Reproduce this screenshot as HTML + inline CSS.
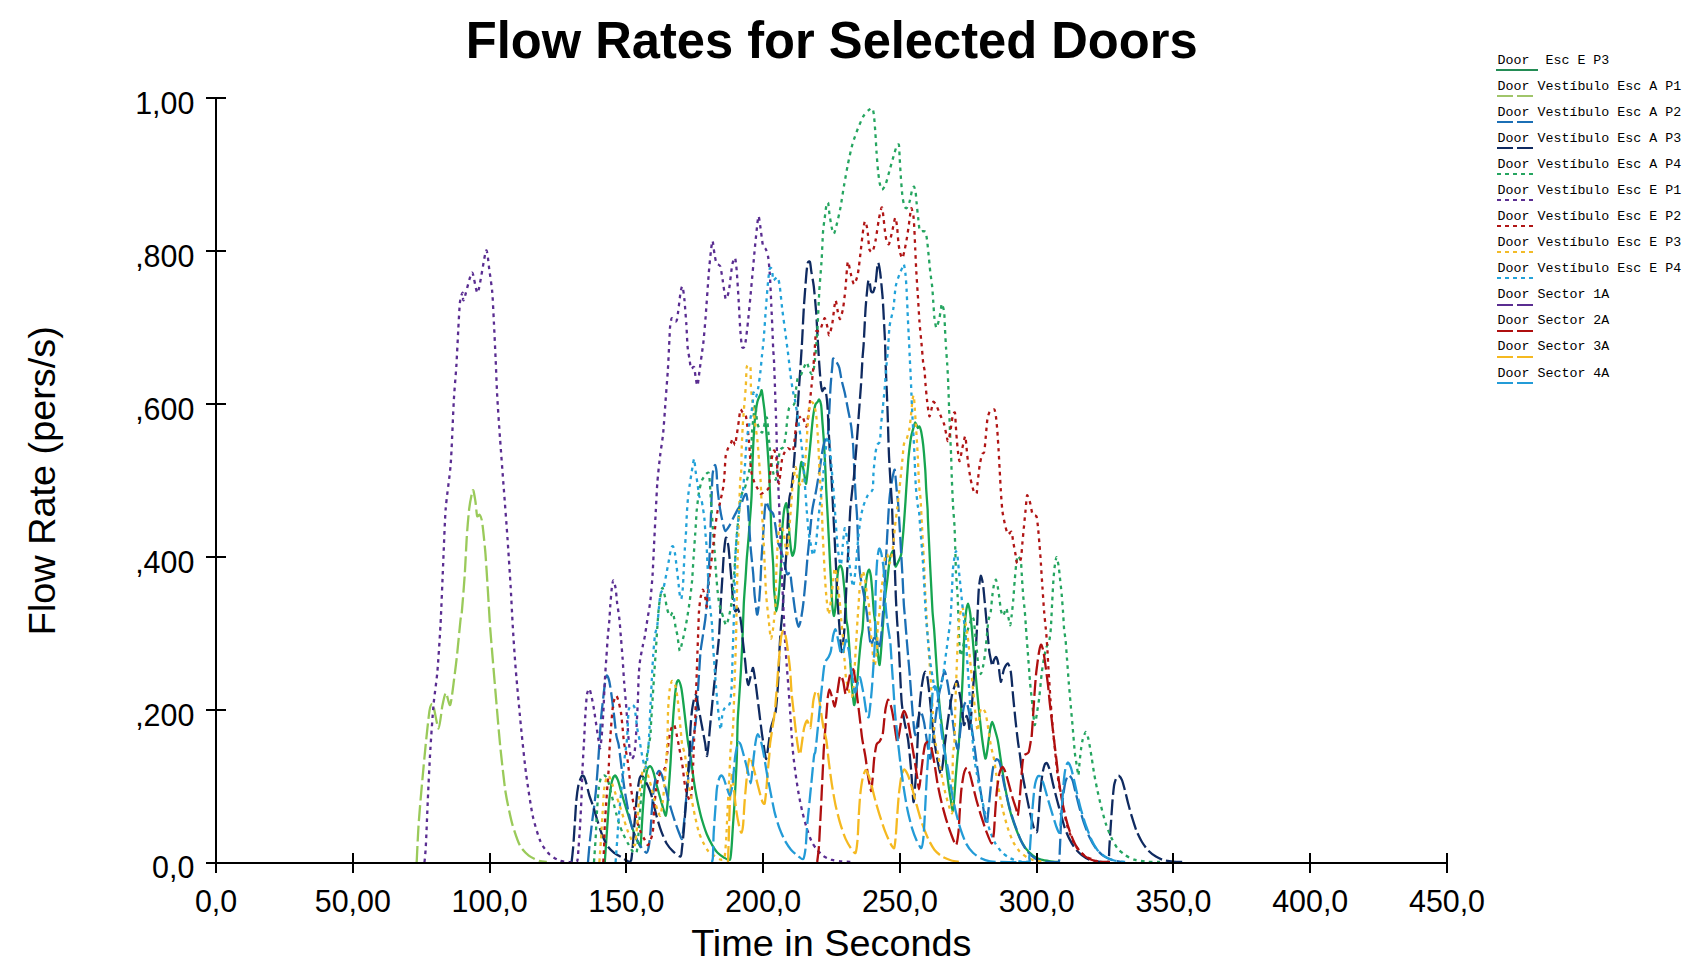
<!DOCTYPE html>
<html><head><meta charset="utf-8"><title>Flow Rates for Selected Doors</title>
<style>
html,body{margin:0;padding:0;background:#fff;}
body{width:1694px;height:971px;overflow:hidden;font-family:"Liberation Sans",sans-serif;}
svg{display:block;}
.ax{stroke:#000;stroke-width:2;fill:none;shape-rendering:crispEdges;}
.tl{font-family:"Liberation Sans",sans-serif;font-size:30.4px;fill:#000;}
.lg{font-family:"Liberation Mono",monospace;font-size:13.3px;fill:#000;}
.c{fill:none;stroke-width:2.3;stroke-linejoin:round;}
</style></head><body>
<svg width="1694" height="971" viewBox="0 0 1694 971">
<rect width="1694" height="971" fill="#fff"/>
<text transform="translate(831.7,58.2) scale(1,1.03)" text-anchor="middle" font-family="Liberation Sans, sans-serif" font-weight="bold" font-size="50.67" fill="#000">Flow Rates for Selected Doors</text>
<text x="831.3" y="955.8" text-anchor="middle" font-family="Liberation Sans, sans-serif" font-size="37.85" fill="#000">Time in Seconds</text>
<text transform="translate(54.8,480.7) rotate(-90)" text-anchor="middle" font-family="Liberation Sans, sans-serif" font-size="37.85" fill="#000">Flow Rate (pers/s)</text>
<path class="c" stroke="#16a550" d="M604.8 862.0C605.0 859.5 605.9 845.6 606.3 840.4C606.7 835.2 607.5 822.1 607.9 817.2C608.3 812.3 608.9 802.8 609.4 798.7C609.9 794.6 611.2 784.4 611.8 781.7C612.4 779.0 614.1 775.7 614.8 775.5C615.5 775.3 617.2 778.4 617.9 780.2C618.6 782.0 620.3 788.5 621.0 791.0C621.7 793.5 623.3 799.1 624.1 801.8C624.9 804.5 627.1 811.3 628.0 814.2C628.9 817.1 630.9 823.8 631.8 826.5C632.7 829.2 634.8 835.1 635.7 837.3C636.6 839.5 639.0 844.1 639.6 845.1C640.2 846.1 640.3 848.3 640.6 846.0C640.9 843.7 641.6 830.2 641.9 825.0C642.2 819.8 643.0 806.7 643.4 801.8C643.8 796.9 644.5 787.1 645.0 783.3C645.5 779.5 646.7 771.4 647.3 769.4C647.9 767.4 649.7 765.9 650.4 766.3C651.1 766.6 652.8 770.2 653.5 772.4C654.2 774.6 655.8 781.7 656.6 784.8C657.4 787.9 659.6 795.8 660.4 798.7C661.2 801.6 662.9 807.5 663.5 809.5C664.1 811.5 665.3 816.2 665.8 815.7C666.3 815.2 667.0 808.3 667.4 804.9C667.8 801.5 668.5 791.2 668.9 786.3C669.3 781.4 670.1 769.1 670.5 763.2C670.9 757.3 671.6 741.8 672.0 735.9C672.4 730.0 673.1 717.6 673.5 712.7C673.9 707.8 674.7 697.6 675.1 694.2C675.5 690.8 676.2 684.9 676.6 683.3C677.0 681.7 678.1 679.7 678.6 680.2C679.1 680.7 680.7 685.1 681.3 688.0C681.9 690.9 683.1 700.7 683.6 705.0C684.1 709.3 685.4 720.6 685.9 725.1C686.4 729.6 687.7 740.1 688.2 743.6C688.7 747.1 690.0 751.9 690.5 755.4C691.0 758.9 692.4 770.0 692.9 774.0C693.4 778.0 694.6 785.8 695.2 789.4C695.8 793.0 697.5 801.3 698.3 804.9C699.1 808.5 701.1 816.9 702.1 820.3C703.1 823.7 705.6 831.3 706.8 834.2C708.0 837.1 710.9 842.9 712.2 845.1C713.5 847.3 716.2 851.4 717.6 852.8C719.0 854.2 722.4 856.6 723.8 857.4C725.2 858.2 729.0 860.8 729.9 859.7C730.8 858.6 731.1 852.1 731.5 848.1C731.9 844.1 732.6 830.4 733.0 825.0C733.4 819.6 734.3 807.2 734.6 801.8C734.9 796.4 735.5 784.0 735.8 778.6C736.1 773.2 736.7 762.2 736.9 755.4C737.1 748.6 737.4 727.2 737.7 720.4C738.0 713.6 738.9 702.6 739.2 697.2C739.6 691.8 740.3 680.4 740.7 674.1C741.1 667.8 741.9 651.4 742.3 643.2C742.7 635.0 743.4 610.9 743.8 603.6C744.2 596.3 745.0 585.8 745.4 580.4C745.8 575.0 746.5 562.1 746.9 557.2C747.3 552.3 748.1 543.2 748.5 538.7C748.9 534.2 749.6 523.7 750.0 518.6C750.4 513.5 751.3 501.8 751.6 495.4C751.9 489.0 752.3 470.0 752.5 463.6C752.7 457.2 753.2 445.8 753.5 440.4C753.8 435.0 754.6 421.7 755.1 417.2C755.6 412.7 756.8 404.5 757.4 401.8C758.0 399.1 760.0 395.5 760.5 394.1C761.0 392.7 761.4 389.8 761.7 390.2C762.0 390.6 762.5 394.9 762.8 397.2C763.1 399.5 764.0 406.1 764.4 409.5C764.8 412.9 765.5 422.0 765.9 426.5C766.3 431.0 767.1 442.9 767.5 448.1C767.9 453.3 768.7 466.5 769.0 471.3C769.3 476.1 769.6 483.6 769.8 489.1C770.0 494.6 770.7 512.5 770.9 518.6C771.1 524.7 771.4 536.4 771.7 541.8C772.0 547.2 772.9 559.6 773.2 565.0C773.5 570.4 773.7 583.6 774.0 588.1C774.3 592.6 775.2 600.9 775.5 603.6C775.8 606.3 776.0 611.3 776.3 611.3C776.6 611.3 777.4 606.3 777.8 603.6C778.2 600.9 779.0 592.6 779.4 588.1C779.8 583.6 780.6 570.4 780.9 565.0C781.2 559.6 781.5 546.3 781.7 541.8C781.9 537.3 782.2 529.9 782.5 526.3C782.8 522.7 783.6 513.6 784.0 510.9C784.4 508.2 785.8 502.8 786.3 503.2C786.8 503.6 787.5 510.4 787.9 514.0C788.3 517.6 789.0 530.0 789.4 534.1C789.8 538.2 790.6 547.0 791.0 549.5C791.4 552.0 792.1 555.9 792.5 555.7C792.9 555.5 794.3 551.4 794.8 548.0C795.3 544.6 796.0 531.5 796.4 526.3C796.8 521.1 797.6 508.6 797.9 503.2C798.2 497.8 798.7 484.8 799.1 480.0C799.5 475.2 800.9 463.0 801.4 462.0C801.9 461.0 803.3 468.8 803.8 471.3C804.3 473.8 805.6 484.6 806.1 483.7C806.6 482.8 807.9 468.7 808.4 463.6C808.9 458.5 810.2 445.8 810.7 440.4C811.2 435.0 812.5 421.3 813.0 417.2C813.5 413.1 814.8 406.7 815.3 404.9C815.8 403.1 817.2 402.4 817.7 401.8C818.2 401.2 818.8 399.1 819.2 399.5C819.6 399.9 820.7 402.5 821.1 404.9C821.5 407.3 822.0 416.2 822.3 420.3C822.6 424.4 823.5 435.3 823.8 440.4C824.1 445.5 824.8 457.9 825.1 463.6C825.4 469.3 825.9 482.7 826.2 489.1C826.5 495.5 827.5 512.5 827.8 518.6C828.1 524.7 828.7 536.4 829.0 541.8C829.3 547.2 829.8 559.6 830.1 565.0C830.4 570.4 831.1 583.2 831.4 588.1C831.7 593.0 832.1 603.5 832.4 606.7C832.7 609.9 833.6 616.3 834.0 615.9C834.4 615.5 835.4 607.7 835.8 603.6C836.2 599.5 836.8 584.5 837.1 580.4C837.4 576.3 838.2 569.8 838.6 568.1C839.0 566.4 840.0 565.4 840.5 565.7C841.0 566.1 842.1 568.8 842.5 571.1C842.9 573.4 843.6 581.3 844.0 585.1C844.4 588.9 845.3 599.6 845.6 603.6C845.9 607.6 846.0 616.0 846.3 619.0C846.6 622.0 847.5 625.5 847.9 629.1C848.3 632.7 849.1 644.1 849.5 650.0C849.9 655.9 851.0 673.6 851.5 680.0C852.0 686.4 853.5 703.8 854.1 705.0C854.7 706.2 855.9 695.2 856.5 690.0C857.1 684.8 858.5 665.8 859.0 660.0C859.5 654.2 860.6 643.6 861.0 640.0C861.4 636.4 862.2 633.3 862.6 629.1C863.0 624.9 863.7 608.7 864.1 603.6C864.5 598.5 865.3 588.5 865.7 585.1C866.1 581.7 866.8 576.0 867.2 574.2C867.6 572.4 868.7 569.4 869.1 569.6C869.5 569.8 870.4 573.3 870.8 575.8C871.2 578.3 871.9 587.1 872.3 591.2C872.6 595.3 873.4 607.3 873.8 611.3C874.2 615.3 875.0 620.7 875.4 625.2C875.8 629.7 877.0 645.4 877.5 650.0C878.0 654.6 879.1 665.6 879.6 665.0C880.1 664.4 881.1 650.4 881.5 645.0C881.9 639.6 883.0 624.6 883.4 619.0C883.8 613.4 884.5 601.9 885.0 597.4C885.5 592.9 886.8 584.7 887.3 580.4C887.8 576.1 889.1 563.5 889.6 560.3C890.1 557.1 891.4 553.7 891.9 552.6C892.4 551.5 893.1 549.8 893.5 551.1C893.9 552.4 894.7 561.6 895.0 563.4C895.3 565.2 895.3 566.9 895.8 566.5C896.3 566.1 898.3 561.7 898.9 560.3C899.5 558.9 900.8 556.7 901.2 554.2C901.6 551.7 902.3 542.9 902.7 538.7C903.1 534.5 904.0 523.0 904.3 518.6C904.6 514.2 905.2 506.0 905.5 501.3C905.8 496.6 906.6 483.3 907.0 478.1C907.4 472.9 908.1 461.2 908.6 456.5C909.1 451.8 910.4 441.2 910.9 438.0C911.4 434.8 912.7 430.5 913.2 428.7C913.7 426.9 914.7 422.6 915.2 422.5C915.7 422.4 917.3 427.4 917.8 427.9C918.3 428.4 919.0 426.1 919.4 426.4C919.8 426.7 920.5 428.7 920.9 430.2C921.3 431.7 922.1 436.8 922.5 439.5C922.9 442.2 923.7 449.8 924.0 453.4C924.3 457.0 925.0 466.1 925.3 470.4C925.6 474.7 926.0 486.0 926.3 490.5C926.6 495.0 927.4 505.7 927.6 509.0C927.8 512.3 927.7 514.8 927.9 518.6C928.1 522.4 928.7 536.4 929.0 541.8C929.3 547.2 929.8 559.6 930.1 565.0C930.4 570.4 931.0 582.7 931.3 588.1C931.6 593.5 932.2 606.5 932.5 611.3C932.8 616.1 933.8 624.6 934.1 629.1C934.5 633.6 935.1 644.1 935.5 650.0C935.9 655.9 937.0 673.0 937.5 680.0C938.0 687.0 939.3 703.0 940.0 710.0C940.7 717.0 943.0 733.8 943.7 740.0C944.4 746.2 945.5 758.1 946.0 763.2C946.5 768.3 947.8 779.2 948.3 783.3C948.8 787.4 950.1 795.5 950.6 798.7C951.1 801.9 952.4 811.5 952.9 811.0C953.4 810.5 954.1 798.4 954.5 794.1C954.9 789.8 955.6 778.5 956.0 774.0C956.4 769.5 957.2 759.4 957.6 755.4C958.0 751.4 958.7 745.3 959.1 740.0C959.5 734.7 960.5 718.2 961.0 710.0C961.5 701.8 962.6 679.4 963.0 670.0C963.4 660.6 964.1 635.9 964.5 629.1C964.9 622.3 965.7 614.3 966.1 611.3C966.5 608.3 967.7 603.6 968.1 603.6C968.5 603.6 969.5 608.8 969.9 611.3C970.3 613.8 971.0 620.1 971.5 625.2C972.0 630.3 973.4 647.4 974.0 655.0C974.6 662.6 976.3 682.4 977.0 690.0C977.7 697.6 979.4 714.2 980.0 720.0C980.6 725.8 981.7 735.5 982.3 740.0C982.9 744.5 984.8 757.6 985.4 758.5C986.0 759.4 987.2 751.0 987.7 747.7C988.2 744.4 989.5 733.0 990.0 730.0C990.5 727.0 991.7 722.0 992.3 722.0C992.9 722.0 994.4 727.9 995.0 730.0C995.6 732.1 997.1 737.0 997.7 740.0C998.3 743.0 999.6 751.8 1000.1 755.4C1000.6 759.0 1001.8 766.9 1002.4 770.9C1003.0 774.9 1004.7 785.1 1005.5 789.4C1006.3 793.7 1008.3 804.0 1009.3 808.0C1010.3 812.0 1012.8 820.0 1014.0 823.4C1015.2 826.8 1018.1 834.4 1019.4 837.3C1020.7 840.2 1023.9 845.9 1025.5 848.1C1027.1 850.3 1031.5 854.5 1033.3 855.9C1035.1 857.3 1039.0 859.1 1041.0 859.7C1043.0 860.3 1048.1 861.0 1050.3 861.3C1052.5 861.6 1058.9 861.9 1060.0 862.0"/>
<path class="c" stroke="#9aca5a" stroke-dasharray="16 4.5" d="M416.7 862.0C416.9 857.8 417.9 835.0 418.5 826.0C419.1 817.0 421.0 794.4 421.9 784.8C422.8 775.2 424.9 752.3 425.8 743.6C426.7 734.9 428.8 714.7 429.6 710.1C430.4 705.5 431.9 702.3 433.0 704.5C434.1 706.7 437.5 728.6 438.6 728.7C439.7 728.8 441.6 709.2 442.5 705.0C443.4 700.8 445.0 692.9 445.9 692.9C446.8 692.9 449.2 706.6 450.2 705.0C451.2 703.4 453.3 685.2 454.1 679.2C454.9 673.2 456.5 660.4 457.2 653.5C457.9 646.6 460.0 624.8 460.5 620.0C461.0 615.2 461.3 617.6 461.8 612.4C462.3 607.2 464.1 583.9 464.7 575.3C465.3 566.7 466.2 546.1 466.7 538.3C467.2 530.5 468.5 514.2 469.2 508.6C469.9 503.0 472.2 491.0 472.9 490.1C473.6 489.2 474.9 498.2 475.4 501.2C475.9 504.2 476.6 514.4 477.1 516.0C477.6 517.6 479.0 514.2 479.6 514.8C480.2 515.4 481.3 516.8 482.0 521.0C482.7 525.2 484.5 542.8 485.2 550.6C485.9 558.4 487.1 578.6 487.7 587.7C488.3 596.8 489.6 620.1 490.2 628.4C490.8 636.7 492.0 649.7 492.7 658.6C493.4 667.5 495.7 694.5 496.6 705.0C497.5 715.5 499.4 738.6 500.5 748.8C501.6 759.0 504.2 783.8 505.6 792.5C507.0 801.2 510.4 817.2 512.1 823.4C513.8 829.6 517.9 841.5 519.8 845.3C521.7 849.1 526.5 853.8 528.8 855.6C531.1 857.4 537.0 860.1 539.1 860.8C541.2 861.5 545.9 861.9 546.8 862.0"/>
<path class="c" stroke="#1b6fb5" stroke-dasharray="16 4.5" d="M588.0 862.0C588.2 859.4 589.4 845.5 590.0 840.0C590.6 834.5 592.5 818.7 593.0 815.0C593.5 811.3 593.6 811.3 594.0 808.0C594.4 804.7 595.8 792.4 596.3 786.3C596.8 780.2 598.1 763.1 598.6 755.4C599.1 747.7 600.4 727.2 600.9 720.4C601.4 713.6 602.8 702.1 603.3 697.2C603.8 692.3 605.2 681.2 605.6 678.7C606.0 676.2 606.7 675.2 607.1 675.6C607.5 676.0 608.9 679.3 609.4 681.8C609.9 684.3 611.3 693.2 611.8 697.2C612.3 701.2 613.6 711.3 614.1 715.8C614.6 720.3 615.9 732.5 616.4 735.9C616.9 739.3 618.2 741.8 618.7 745.0C619.2 748.2 620.4 758.4 621.0 763.2C621.6 768.0 623.3 780.9 624.1 786.3C624.9 791.7 627.0 804.4 628.0 809.5C629.0 814.6 631.5 826.0 632.6 829.6C633.7 833.2 636.1 838.2 637.2 840.4C638.3 842.6 640.8 846.7 641.9 848.1C643.0 849.5 645.7 852.8 646.5 852.8C647.3 852.8 648.0 850.3 648.5 848.0C649.0 845.7 650.0 837.2 650.4 832.7C650.8 828.2 651.5 814.4 651.9 809.5C652.3 804.6 653.0 794.8 653.5 791.0C654.0 787.2 655.2 779.4 655.8 777.1C656.4 774.8 658.2 771.1 658.9 770.9C659.6 770.7 661.3 773.7 662.0 775.5C662.7 777.3 664.4 783.6 665.1 786.3C665.8 789.0 667.4 796.0 668.1 798.7C668.8 801.4 670.4 806.8 671.2 809.5C672.0 812.2 674.2 819.2 675.1 821.9C676.0 824.6 678.2 830.7 679.0 832.7C679.8 834.7 681.5 839.6 682.0 838.9C682.5 838.2 683.1 830.8 683.6 826.5C684.1 822.2 685.4 807.4 685.9 801.8C686.4 796.2 687.7 783.7 688.2 778.6C688.7 773.5 689.9 763.0 690.5 758.5C691.1 754.0 692.4 744.4 693.0 740.0C693.6 735.6 695.4 725.4 695.9 720.4C696.4 715.4 697.1 702.6 697.5 697.2C697.9 691.8 698.6 679.5 699.0 674.1C699.4 668.7 700.1 655.4 700.6 650.9C701.1 646.4 702.4 639.0 702.9 635.4C703.4 631.8 704.7 623.7 705.2 620.0C705.7 616.3 706.4 608.2 706.8 603.6C707.2 599.0 708.0 585.8 708.3 580.4C708.6 575.0 709.2 563.5 709.5 557.2C709.8 550.9 710.4 532.6 710.6 526.3C710.8 520.0 711.2 509.3 711.4 503.2C711.6 497.1 712.2 478.8 712.6 474.4C713.0 470.0 714.4 465.5 714.9 465.1C715.4 464.7 716.2 468.5 716.5 471.3C716.8 474.1 717.2 485.0 717.6 489.3C718.0 493.6 719.4 504.2 719.9 507.8C720.4 511.4 721.6 517.5 722.2 520.2C722.8 522.9 724.4 530.5 725.3 531.0C726.2 531.5 729.0 526.2 729.9 524.8C730.8 523.4 732.1 520.4 733.0 518.6C733.9 516.8 736.7 511.2 737.7 509.4C738.7 507.6 740.8 504.6 741.5 503.2C742.2 501.8 743.3 498.1 743.8 497.0C744.3 495.9 745.7 493.2 746.2 493.9C746.7 494.6 747.4 499.4 747.7 503.2C748.1 507.0 748.8 520.9 749.2 526.3C749.6 531.7 750.3 544.1 750.8 549.5C751.3 554.9 752.6 567.3 753.1 572.7C753.6 578.1 754.2 591.0 754.7 595.9C755.2 600.8 756.6 613.0 757.0 614.4C757.4 615.8 758.1 611.3 758.5 608.2C758.9 605.1 759.7 594.1 760.1 588.1C760.5 582.1 761.2 563.5 761.6 557.2C762.0 550.9 762.8 539.5 763.2 534.1C763.6 528.7 764.4 514.7 764.7 510.9C765.1 507.1 765.7 501.8 766.2 501.6C766.7 501.4 768.5 508.0 769.3 509.4C770.1 510.8 772.5 512.0 773.2 514.0C773.9 516.0 775.0 523.1 775.5 526.3C776.0 529.5 777.2 539.1 777.8 541.8C778.4 544.5 780.2 547.2 780.9 549.5C781.6 551.8 783.3 559.0 784.0 561.9C784.7 564.8 786.4 572.9 787.1 574.2C787.8 575.5 789.7 571.4 790.2 572.7C790.7 574.0 791.2 581.5 791.7 585.1C792.2 588.7 793.6 599.6 794.1 603.6C794.6 607.6 795.9 616.3 796.4 619.0C796.9 621.7 798.2 626.8 798.7 626.8C799.2 626.8 800.5 621.7 801.0 619.0C801.5 616.3 802.8 608.1 803.3 603.6C803.8 599.1 805.1 585.9 805.6 580.4C806.1 574.9 807.1 561.3 807.6 556.3C808.1 551.3 809.0 543.1 809.5 537.7C810.0 532.3 811.5 515.3 812.3 509.9C813.1 504.5 815.1 496.1 816.0 491.3C816.9 486.5 818.9 473.9 819.7 469.1C820.5 464.3 821.9 454.0 822.5 450.5C823.1 447.0 824.6 441.3 825.2 439.4C825.8 437.5 827.6 436.4 828.0 433.8C828.4 431.2 828.8 421.2 829.0 417.1C829.2 413.0 829.7 402.5 829.9 398.6C830.1 394.7 830.5 387.1 830.8 383.3C831.1 379.5 832.0 369.2 832.3 366.3C832.6 363.4 832.6 359.0 833.1 358.5C833.6 358.0 835.5 360.5 836.2 361.6C836.9 362.7 838.7 365.6 839.3 367.8C839.9 370.0 841.0 377.3 841.6 380.2C842.2 383.1 843.9 388.8 844.7 392.5C845.5 396.2 847.6 407.5 848.4 411.5C849.2 415.5 850.7 422.5 851.2 426.4C851.7 430.3 852.8 440.6 853.1 444.9C853.4 449.2 853.8 459.2 854.0 463.5C854.2 467.8 854.7 477.7 854.9 482.0C855.1 486.3 855.6 496.3 855.9 500.6C856.2 504.9 856.9 512.5 857.2 519.1C857.5 525.7 858.3 550.6 858.7 557.2C859.1 563.8 859.8 572.2 860.3 575.8C860.8 579.4 862.1 585.2 862.6 588.1C863.1 591.0 864.4 597.3 864.9 600.5C865.4 603.7 866.8 612.6 867.2 615.9C867.6 619.2 868.4 626.1 868.7 629.1C869.0 632.1 869.8 639.3 870.1 641.2C870.4 643.1 870.6 645.7 871.1 645.3C871.6 644.9 873.3 638.6 874.0 638.0C874.7 637.4 876.4 638.8 877.0 640.0C877.6 641.2 878.4 648.5 878.9 648.4C879.4 648.3 880.5 641.6 880.9 639.0C881.3 636.4 881.6 630.7 882.0 625.7C882.4 620.7 883.8 603.0 884.2 595.9C884.6 588.8 885.3 572.2 885.7 565.0C886.1 557.8 886.9 540.8 887.3 534.1C887.7 527.4 888.5 512.5 888.8 507.8C889.1 503.1 889.6 497.1 890.0 493.6C890.4 490.1 891.9 480.9 892.4 478.1C892.9 475.3 894.3 469.4 894.7 469.6C895.1 469.8 895.5 477.2 895.8 480.0C896.1 482.8 896.7 490.9 897.0 493.6C897.3 496.3 897.8 499.4 898.1 503.2C898.4 507.0 899.2 520.3 899.6 526.3C900.0 532.2 900.8 547.9 901.2 554.2C901.6 560.5 902.4 574.6 902.7 580.4C903.0 586.2 903.5 599.1 903.8 603.6C904.1 608.1 904.7 614.4 905.1 619.0C905.5 623.6 906.5 636.8 907.0 643.0C907.5 649.2 908.9 664.8 909.5 672.0C910.1 679.2 911.5 698.5 912.0 705.0C912.5 711.5 913.6 724.5 914.0 728.0C914.4 731.5 915.1 735.7 915.5 735.0C915.9 734.3 916.9 724.7 917.5 722.0C918.1 719.3 920.0 711.5 920.8 711.5C921.6 711.5 923.2 718.1 924.0 722.0C924.8 725.9 926.7 740.3 927.5 744.6C928.3 748.9 929.7 760.2 930.5 758.5C931.3 756.8 933.1 736.8 934.0 730.0C934.9 723.2 937.1 705.8 938.0 700.0C938.9 694.2 941.2 683.4 942.0 680.0C942.8 676.6 944.0 671.0 944.6 671.0C945.2 671.0 946.5 677.5 947.0 680.0C947.5 682.5 948.4 687.9 949.0 692.0C949.6 696.1 951.3 709.6 952.0 715.0C952.7 720.4 954.3 734.0 955.0 738.0C955.7 742.0 957.3 750.5 958.0 749.0C958.7 747.5 960.3 730.0 961.0 725.0C961.7 720.0 963.4 708.7 964.0 706.0C964.6 703.3 965.9 701.3 966.5 702.0C967.1 702.7 968.4 708.7 969.0 712.0C969.6 715.3 971.3 725.8 972.0 730.0C972.7 734.2 973.9 742.9 974.6 747.7C975.3 752.5 976.9 765.1 977.7 770.9C978.5 776.7 980.6 791.4 981.5 797.2C982.4 803.0 984.8 817.1 985.4 820.3C986.0 823.4 986.5 825.5 986.9 824.2C987.3 822.9 988.0 813.9 988.5 809.5C989.0 805.1 990.3 791.2 990.8 786.3C991.3 781.4 992.5 770.9 993.1 767.8C993.7 764.6 995.5 760.0 996.2 759.3C996.9 758.6 998.7 760.2 999.3 761.6C999.9 763.0 1001.1 768.4 1001.6 770.9C1002.1 773.4 1003.3 780.2 1003.9 783.3C1004.5 786.4 1006.2 793.8 1007.0 797.2C1007.8 800.6 1009.9 809.2 1010.9 812.6C1011.9 816.0 1014.3 823.3 1015.5 826.5C1016.7 829.7 1019.5 837.5 1020.9 840.4C1022.3 843.3 1025.5 849.1 1027.1 851.2C1028.7 853.3 1033.0 857.0 1034.8 858.2C1036.6 859.4 1040.7 860.9 1042.5 861.3C1044.3 861.7 1048.1 861.9 1050.0 862.0C1051.9 862.1 1057.4 862.5 1058.6 862.0C1059.8 860.4 1059.6 852.4 1059.9 848.1C1060.2 843.8 1060.6 830.4 1060.9 825.0C1061.2 819.6 1062.0 806.5 1062.5 801.8C1063.0 797.1 1064.3 787.7 1064.8 784.8C1065.3 781.9 1066.6 778.2 1067.1 777.1C1067.6 776.0 1068.8 775.1 1069.4 775.5C1070.0 775.9 1071.8 778.2 1072.5 780.2C1073.2 782.2 1074.8 789.3 1075.6 792.5C1076.4 795.7 1078.5 804.4 1079.5 808.0C1080.5 811.6 1082.9 820.0 1084.1 823.4C1085.3 826.8 1088.1 834.4 1089.5 837.3C1090.9 840.2 1094.1 845.9 1095.7 848.1C1097.3 850.3 1101.4 854.5 1103.4 855.9C1105.4 857.3 1110.5 859.5 1112.7 860.2C1114.9 860.9 1120.9 861.8 1122.0 862.0"/>
<path class="c" stroke="#0f2a60" stroke-dasharray="16 4.5" d="M571.6 862.0C571.8 860.4 572.7 852.4 573.1 848.1C573.5 843.8 574.3 830.4 574.7 825.0C575.1 819.6 575.8 806.5 576.2 801.8C576.6 797.1 577.9 787.8 578.5 784.8C579.1 781.8 581.0 777.3 581.6 776.3C582.2 775.3 583.4 775.5 583.9 776.3C584.4 777.1 585.7 781.0 586.3 783.3C586.9 785.6 588.6 792.9 589.4 795.6C590.2 798.3 592.2 803.3 593.2 806.4C594.2 809.5 596.7 818.5 597.8 821.9C598.9 825.3 601.3 832.9 602.5 835.8C603.7 838.7 606.5 844.6 607.9 846.6C609.3 848.6 612.5 851.5 614.1 852.8C615.7 854.1 620.2 856.4 621.8 857.4C623.4 858.4 626.9 860.9 628.0 861.3C629.1 861.7 630.6 862.0 631.1 860.5C631.6 859.0 632.2 852.1 632.6 848.1C633.0 844.1 633.8 831.0 634.2 826.5C634.6 822.0 635.4 813.5 635.7 809.5C636.1 805.5 636.7 796.1 637.2 792.5C637.7 788.9 639.1 780.6 639.6 778.6C640.1 776.6 641.3 775.3 641.9 775.5C642.5 775.7 644.3 778.9 645.0 780.2C645.7 781.5 647.4 784.7 648.1 786.3C648.8 787.9 650.4 791.8 651.1 794.1C651.8 796.4 653.5 803.5 654.2 806.4C654.9 809.3 656.5 815.9 657.3 818.8C658.1 821.7 660.1 828.2 661.2 831.1C662.3 834.0 665.2 841.2 666.6 843.5C668.0 845.8 671.2 849.7 672.8 851.2C674.4 852.7 679.4 857.0 680.5 856.6C681.6 856.2 681.6 850.9 682.0 848.1C682.4 845.3 683.2 836.7 683.6 832.7C684.0 828.7 684.7 818.7 685.1 814.2C685.5 809.7 686.3 799.2 686.7 794.1C687.1 789.0 687.8 776.3 688.2 770.9C688.6 765.5 689.5 752.7 689.8 747.7C690.1 742.7 690.2 732.5 690.5 728.1C690.8 723.7 691.6 713.2 692.1 709.6C692.6 706.0 694.0 698.8 694.4 697.2C694.8 695.6 695.4 694.6 695.9 695.7C696.4 696.8 697.8 703.8 698.3 706.5C698.8 709.2 700.1 716.0 700.6 718.9C701.1 721.8 702.4 728.3 702.9 731.2C703.4 734.1 704.7 740.7 705.2 743.6C705.7 746.5 706.4 755.6 706.8 756.0C707.2 756.4 707.9 750.0 708.3 746.7C708.7 743.4 709.5 732.1 709.9 728.1C710.3 724.1 711.0 716.3 711.4 712.7C711.8 709.1 712.5 700.8 712.9 697.2C713.3 693.6 714.1 685.4 714.5 681.8C714.9 678.2 715.6 669.9 716.0 666.3C716.4 662.7 717.2 654.5 717.6 650.9C718.0 647.3 718.7 640.9 719.1 635.4C719.5 629.9 720.3 610.0 720.7 603.6C721.1 597.2 721.8 586.2 722.2 580.4C722.6 574.6 723.4 558.9 723.8 554.2C724.2 549.5 725.0 542.1 725.3 540.2C725.6 538.3 726.1 537.2 726.5 537.9C726.9 538.6 728.0 543.6 728.4 546.4C728.8 549.2 729.5 557.9 729.9 561.9C730.3 565.9 731.1 575.9 731.5 580.4C731.9 584.9 732.6 596.9 733.0 600.5C733.4 604.1 734.8 610.4 735.3 611.3C735.8 612.2 737.2 607.7 737.7 608.2C738.2 608.7 739.6 613.8 740.0 615.9C740.4 618.0 741.1 622.8 741.5 626.0C741.9 629.2 742.6 638.8 743.1 643.2C743.6 647.6 745.0 659.2 745.4 663.3C745.8 667.4 746.5 676.2 746.9 678.7C747.3 681.2 748.0 685.3 748.5 684.9C749.0 684.5 750.3 677.6 750.8 675.6C751.3 673.6 752.6 667.5 753.1 667.9C753.6 668.3 754.5 675.6 755.0 678.7C755.5 681.8 756.5 690.2 757.0 694.2C757.5 698.2 758.8 708.4 759.3 712.7C759.8 717.0 761.1 727.2 761.6 731.2C762.1 735.2 763.4 743.5 763.9 746.7C764.4 749.9 765.7 759.4 766.2 759.0C766.7 758.6 768.1 747.2 768.6 743.6C769.1 740.0 770.4 730.8 770.9 728.1C771.4 725.4 772.7 722.2 773.2 720.4C773.7 718.6 775.0 715.4 775.5 712.7C776.0 710.0 776.7 701.7 777.1 697.2C777.5 692.7 778.3 679.5 778.6 674.1C778.9 668.7 779.1 656.3 779.4 650.9C779.7 645.5 780.5 632.6 780.9 628.0C781.3 623.4 782.1 616.0 782.5 611.3C782.9 606.6 783.6 593.5 784.0 588.1C784.4 582.7 785.1 570.4 785.5 565.0C785.9 559.6 786.8 547.2 787.1 541.8C787.4 536.4 787.6 523.7 787.9 518.6C788.2 513.5 789.0 502.1 789.4 498.5C789.8 494.9 791.1 490.6 791.5 488.0C791.9 485.4 792.5 479.7 792.9 476.0C793.2 472.3 794.1 461.0 794.5 455.9C794.9 450.8 795.6 438.1 796.0 432.7C796.4 427.3 797.2 414.9 797.6 409.5C798.0 404.1 798.7 391.7 799.1 386.3C799.5 380.9 800.4 368.3 800.7 363.2C801.0 358.1 801.6 349.4 802.0 343.0C802.4 336.6 803.3 315.8 803.8 308.1C804.3 300.4 805.7 282.4 806.1 277.2C806.5 272.0 807.2 265.1 807.6 263.3C808.0 261.5 809.4 260.7 809.9 261.8C810.4 262.9 811.0 269.7 811.5 272.6C812.0 275.5 813.3 282.0 813.8 286.5C814.3 291.0 815.6 305.1 816.1 311.2C816.6 317.3 817.3 332.9 817.7 339.0C818.1 345.1 818.8 358.0 819.2 363.2C819.6 368.4 820.4 380.1 820.8 383.3C821.2 386.5 821.9 390.5 822.3 391.0C822.7 391.5 824.1 387.5 824.6 387.9C825.1 388.3 825.8 391.6 826.2 394.1C826.6 396.6 827.4 405.0 827.7 409.5C828.0 414.0 828.5 427.3 828.8 432.7C829.1 438.1 829.7 450.5 830.0 455.9C830.3 461.3 831.2 472.6 831.6 479.0C832.0 485.4 832.8 503.6 833.2 510.9C833.6 518.2 834.4 534.6 834.8 541.8C835.2 549.0 835.9 565.5 836.3 572.7C836.6 579.9 837.4 597.3 837.8 603.6C838.2 609.9 839.0 621.2 839.4 626.8C839.8 632.4 841.0 650.9 841.5 652.0C842.0 653.1 843.4 639.7 843.8 636.0C844.2 632.3 844.7 624.4 844.9 620.6C845.1 616.8 845.3 609.2 845.6 603.6C845.9 598.0 846.7 579.9 847.1 572.7C847.5 565.5 848.3 549.0 848.7 541.8C849.1 534.6 849.8 517.2 850.2 510.9C850.6 504.6 852.1 491.8 852.5 487.7C852.9 483.6 853.6 480.6 854.0 476.0C854.4 471.4 855.8 455.0 856.3 448.1C856.8 441.2 858.1 424.4 858.6 417.2C859.1 410.0 860.4 393.1 860.9 386.3C861.4 379.5 862.2 363.3 862.5 358.5C862.8 353.7 863.2 350.9 863.6 345.0C864.0 339.1 865.1 315.3 865.6 308.1C866.1 300.9 867.5 286.6 867.9 283.4C868.3 280.2 869.0 279.4 869.4 280.3C869.8 281.2 870.5 289.7 871.0 291.1C871.5 292.5 872.8 292.8 873.3 291.9C873.8 291.0 875.1 286.8 875.6 283.4C876.1 280.0 877.4 263.9 877.9 262.6C878.4 261.3 879.7 268.7 880.2 272.6C880.7 276.5 882.0 289.9 882.5 295.8C883.0 301.8 883.8 318.1 884.1 323.6C884.4 329.1 884.9 338.4 885.1 343.0C885.3 347.6 885.4 357.2 885.6 363.2C885.8 369.2 886.6 386.9 886.9 394.1C887.2 401.3 887.8 417.8 888.0 425.0C888.2 432.2 888.7 449.6 889.0 455.9C889.3 462.2 890.0 473.5 890.3 479.0C890.6 484.5 891.6 497.7 891.9 503.2C892.2 508.7 892.5 520.9 892.7 526.3C892.9 531.7 893.6 544.1 893.9 549.5C894.2 554.9 894.8 567.3 895.0 572.7C895.2 578.1 895.6 590.5 895.8 595.9C896.0 601.3 896.6 612.7 897.0 619.0C897.4 625.3 898.5 640.5 899.0 650.0C899.5 659.5 900.9 691.6 901.5 700.0C902.1 708.4 903.7 717.3 904.5 722.0C905.3 726.7 907.3 734.3 908.1 740.0C908.9 745.7 910.6 763.7 911.2 770.9C911.8 778.1 913.0 800.0 913.5 801.8C914.0 803.6 914.7 790.8 915.1 786.3C915.5 781.8 916.2 770.7 916.6 763.2C917.0 755.7 918.0 730.3 918.5 722.0C919.0 713.7 920.4 697.4 921.0 692.0C921.6 686.6 923.0 678.4 923.5 676.0C924.0 673.6 924.9 671.6 925.4 671.8C925.9 672.0 927.0 674.7 927.5 678.0C928.0 681.3 929.4 693.9 930.0 700.0C930.6 706.1 932.2 723.6 933.0 730.0C933.8 736.4 935.6 749.9 936.5 755.0C937.4 760.1 939.9 773.0 940.6 774.0C941.3 775.0 942.5 766.3 942.9 763.2C943.3 760.1 943.8 752.7 944.4 747.7C945.0 742.7 947.1 726.1 948.0 720.0C948.9 713.9 951.0 699.5 952.0 695.0C953.0 690.5 956.0 681.6 956.8 681.0C957.6 680.4 958.5 687.2 959.0 690.0C959.5 692.8 960.9 700.9 961.5 705.0C962.1 709.1 963.4 723.7 964.0 725.0C964.6 726.3 966.0 716.4 966.5 716.0C967.0 715.6 968.1 720.4 968.5 722.0C968.9 723.6 969.5 733.7 970.0 730.0C970.5 726.3 972.4 698.8 973.0 690.0C973.6 681.2 975.0 662.1 975.5 655.0C976.0 647.9 976.6 634.2 976.9 629.1C977.2 624.0 977.5 616.1 977.7 611.3C977.9 606.5 978.5 592.2 978.9 588.1C979.3 584.0 980.3 576.1 980.8 575.8C981.3 575.4 982.7 582.2 983.1 585.1C983.5 588.0 984.2 596.7 984.6 600.5C985.0 604.3 985.8 613.9 986.2 618.0C986.6 622.1 987.4 631.6 987.7 635.4C988.1 639.2 988.9 648.6 989.2 650.9C989.5 653.2 989.6 653.7 990.0 655.5C990.4 657.3 991.8 665.8 992.3 666.3C992.8 666.8 993.4 661.3 993.9 660.2C994.4 659.1 995.7 656.6 996.2 657.1C996.7 657.6 998.0 661.9 998.5 664.8C999.0 667.7 1000.2 681.3 1000.8 681.8C1001.4 682.3 1003.1 671.6 1003.9 669.4C1004.7 667.2 1007.0 662.9 1007.8 663.3C1008.6 663.7 1010.3 668.5 1010.9 672.5C1011.5 676.5 1012.7 691.6 1013.2 697.2C1013.7 702.8 1015.0 715.3 1015.5 720.4C1016.0 725.5 1017.3 736.3 1017.8 740.5C1018.3 744.7 1019.6 752.1 1020.1 756.0C1020.6 759.9 1021.7 769.6 1022.4 774.0C1023.1 778.4 1025.3 789.6 1026.2 794.1C1027.1 798.6 1029.1 808.6 1030.0 812.6C1030.9 816.6 1033.1 825.8 1033.9 828.1C1034.7 830.4 1036.5 833.2 1037.0 831.9C1037.5 830.6 1038.1 821.6 1038.5 817.2C1038.9 812.8 1039.6 799.1 1040.1 794.1C1040.6 789.1 1041.9 777.4 1042.4 774.0C1042.9 770.6 1044.2 766.0 1044.7 764.7C1045.2 763.4 1046.4 762.5 1047.0 763.2C1047.6 763.9 1049.4 768.4 1050.1 770.9C1050.8 773.4 1052.4 781.4 1053.2 784.8C1054.0 788.2 1056.2 796.9 1057.1 800.3C1058.0 803.7 1060.0 811.0 1060.9 814.2C1061.8 817.4 1063.8 825.2 1064.8 828.1C1065.8 831.0 1068.2 836.6 1069.4 838.9C1070.6 841.2 1073.4 846.2 1074.8 848.1C1076.2 850.0 1080.1 853.7 1081.8 855.1C1083.5 856.5 1087.5 858.9 1089.5 859.7C1091.5 860.5 1096.6 861.4 1098.8 861.7C1101.0 862.0 1106.9 862.5 1108.1 862.0C1109.3 860.4 1109.0 852.4 1109.3 848.1C1109.6 843.8 1110.4 830.4 1110.8 825.0C1111.2 819.6 1112.0 806.5 1112.4 801.8C1112.8 797.1 1113.7 787.7 1114.2 784.8C1114.7 781.9 1116.1 778.1 1116.6 777.1C1117.1 776.1 1118.3 775.4 1118.9 775.8C1119.5 776.2 1121.3 778.4 1122.0 780.2C1122.7 782.0 1124.4 788.3 1125.1 791.0C1125.8 793.7 1127.3 800.2 1128.1 803.3C1128.9 806.4 1131.0 814.0 1132.0 817.2C1133.0 820.4 1135.4 828.2 1136.6 831.1C1137.8 834.0 1140.6 839.7 1142.0 842.0C1143.4 844.3 1146.6 848.8 1148.2 850.5C1149.8 852.2 1154.1 855.5 1155.9 856.6C1157.7 857.7 1161.7 859.6 1163.7 860.2C1165.7 860.8 1170.4 861.5 1172.9 861.7C1175.4 861.9 1183.9 862.0 1185.3 862.0"/>
<path class="c" stroke="#25a560" stroke-dasharray="3.6 4.4" d="M594.0 862.0C594.2 859.5 595.1 846.5 595.5 840.4C595.9 834.3 596.7 815.5 597.1 809.5C597.5 803.5 598.2 793.1 598.6 789.4C599.0 785.7 600.2 779.5 600.9 777.9C601.6 776.3 604.0 775.2 604.8 775.5C605.6 775.8 607.3 778.6 607.9 780.2C608.5 781.8 609.6 786.9 610.2 789.4C610.8 791.9 612.6 798.9 613.3 801.8C614.0 804.7 615.7 811.5 616.4 814.2C617.1 816.9 618.7 822.7 619.5 825.0C620.3 827.3 622.3 832.0 623.3 834.2C624.3 836.4 626.9 841.5 628.0 843.5C629.1 845.5 631.6 850.1 632.6 851.2C633.6 852.3 635.9 854.1 636.5 852.8C637.1 851.5 637.6 844.6 638.0 840.4C638.4 836.2 639.2 822.2 639.6 817.2C640.0 812.2 640.7 801.2 641.1 797.2C641.5 793.2 642.3 786.4 642.7 783.3C643.1 780.2 643.8 773.8 644.2 770.9C644.6 768.0 646.0 761.6 646.5 758.5C647.0 755.4 648.3 747.2 648.8 744.6C649.3 742.0 650.1 738.7 650.4 735.9C650.7 733.1 650.9 724.9 651.2 720.4C651.5 715.9 652.4 702.6 652.7 697.2C653.1 691.8 653.8 679.5 654.2 674.1C654.6 668.7 655.4 656.3 655.8 650.9C656.2 645.5 656.9 632.9 657.3 627.7C657.7 622.5 658.4 611.0 658.9 606.7C659.4 602.4 660.8 593.4 661.2 591.2C661.6 589.0 662.2 587.4 662.7 588.1C663.2 588.8 664.6 595.2 665.1 597.4C665.6 599.6 666.2 604.7 666.6 606.7C667.0 608.7 668.4 613.3 668.9 614.4C669.4 615.5 670.0 616.3 670.5 616.0C671.0 615.7 672.4 611.8 672.8 612.1C673.2 612.5 673.9 617.0 674.3 619.0C674.7 621.0 675.5 627.2 675.9 629.1C676.3 631.0 677.0 632.9 677.4 635.4C677.8 637.9 679.2 650.0 679.7 650.9C680.2 651.8 681.4 645.7 682.0 643.2C682.6 640.7 684.5 632.5 685.1 629.3C685.7 626.1 687.0 619.3 687.5 615.9C688.0 612.5 689.3 604.6 689.8 600.5C690.3 596.4 691.7 585.5 692.1 580.4C692.5 575.3 693.2 562.6 693.6 557.2C694.0 551.8 694.8 539.5 695.2 534.1C695.6 528.7 696.3 515.8 696.7 510.9C697.1 506.0 698.4 495.9 699.0 492.4C699.6 488.9 701.0 482.7 701.8 480.6C702.6 478.5 704.9 475.3 705.7 474.4C706.5 473.5 708.2 471.9 708.7 472.9C709.2 473.9 709.7 480.5 709.9 483.1C710.1 485.7 710.4 492.2 710.6 495.4C710.8 498.6 711.4 506.9 711.7 510.9C712.0 514.9 712.6 524.9 712.9 529.4C713.2 533.9 714.1 544.4 714.5 549.5C714.9 554.6 715.6 567.8 716.0 572.7C716.4 577.6 717.2 587.6 717.6 591.2C718.0 594.8 718.7 601.3 719.1 603.6C719.5 605.9 720.9 609.5 721.4 611.3C721.9 613.1 723.3 617.4 723.8 619.0C724.3 620.6 725.6 625.2 726.1 625.2C726.6 625.2 727.9 621.0 728.4 619.0C728.9 617.0 730.2 610.9 730.7 608.2C731.2 605.5 731.9 599.1 732.3 595.9C732.7 592.7 733.4 584.9 733.8 580.4C734.1 575.9 734.9 562.6 735.3 557.2C735.7 551.8 736.5 538.6 736.9 534.1C737.3 529.6 738.0 522.2 738.4 518.6C738.8 515.0 739.5 506.3 740.0 503.2C740.5 500.1 741.7 494.4 742.3 492.4C742.9 490.4 744.4 489.6 745.4 486.2C746.4 482.8 749.7 469.8 750.5 463.6C751.3 457.4 751.6 439.0 752.0 432.7C752.4 426.4 753.9 412.7 754.3 409.5C754.7 406.3 755.1 403.4 755.5 405.0C755.9 406.6 756.6 420.2 757.4 423.4C758.2 426.6 761.1 432.9 762.0 432.7C762.9 432.5 764.5 423.6 765.1 421.9C765.7 420.2 766.5 415.9 767.0 418.0C767.5 420.1 768.5 434.9 769.0 440.0C769.5 445.1 770.8 458.0 771.3 462.0C771.8 466.0 773.1 472.4 773.6 474.4C774.1 476.4 775.3 481.7 776.0 479.0C776.7 476.3 778.9 455.0 779.8 451.2C780.7 447.4 783.0 448.8 783.7 446.6C784.4 444.4 785.6 436.1 786.0 432.7C786.4 429.3 787.1 420.1 787.5 417.2C787.9 414.3 788.6 409.3 789.1 408.0C789.6 406.7 791.6 406.2 792.2 405.7C792.8 405.2 794.1 405.2 794.5 403.3C794.9 401.4 795.6 392.3 796.0 389.4C796.4 386.5 797.1 380.2 797.6 378.6C798.1 377.0 800.0 376.8 800.7 375.5C801.4 374.2 803.1 369.3 803.8 367.8C804.5 366.3 806.2 362.2 806.8 362.4C807.4 362.6 808.7 368.0 809.2 369.4C809.7 370.8 811.0 373.9 811.5 374.0C812.0 374.1 813.1 371.3 813.5 370.0C813.9 368.7 814.3 365.8 814.6 363.2C814.9 360.6 815.7 352.3 816.1 347.7C816.5 343.1 817.3 330.0 817.7 323.6C818.1 317.2 818.8 299.9 819.2 292.7C819.6 285.5 821.0 269.0 821.5 261.8C822.0 254.6 822.7 236.0 823.1 230.9C823.5 225.8 824.3 221.1 824.7 218.2C825.1 215.3 825.9 207.7 826.3 205.9C826.7 204.1 827.7 201.9 828.1 202.8C828.5 203.7 829.0 210.7 829.4 213.6C829.8 216.5 831.2 225.2 831.7 227.5C832.2 229.8 833.4 234.2 834.0 233.7C834.6 233.2 836.3 226.0 837.1 222.9C837.9 219.8 839.7 211.7 840.5 207.4C841.3 203.1 843.1 190.8 844.0 185.8C844.9 180.8 846.9 169.1 847.9 164.2C848.9 159.3 851.3 148.3 852.5 144.1C853.7 139.9 856.6 131.8 857.9 128.6C859.2 125.4 862.0 118.5 863.3 116.3C864.6 114.1 867.6 111.0 868.7 110.1C869.8 109.2 872.0 107.6 872.6 108.5C873.2 109.4 873.9 114.9 874.2 117.8C874.5 120.7 875.1 129.3 875.4 133.3C875.7 137.3 876.2 147.5 876.5 151.8C876.8 156.1 877.6 166.7 878.0 170.3C878.4 173.9 879.1 180.4 879.6 182.7C880.1 185.0 881.2 189.4 881.9 189.6C882.6 189.8 884.8 186.5 885.7 184.2C886.6 181.9 888.7 173.5 889.6 170.3C890.5 167.1 892.7 159.2 893.5 156.4C894.3 153.6 896.0 147.8 896.6 146.4C897.2 145.0 898.5 143.6 898.9 144.8C899.2 146.0 899.4 152.9 899.6 156.4C899.8 159.9 900.4 170.5 900.7 175.0C901.0 179.5 901.9 191.4 902.3 195.0C902.7 198.6 903.8 204.4 904.3 205.9C904.8 207.4 906.0 208.7 906.6 208.2C907.2 207.7 909.1 203.3 909.7 201.2C910.3 199.1 911.5 192.1 912.0 190.4C912.5 188.7 913.6 186.4 914.0 186.6C914.4 186.8 915.3 190.1 915.6 192.0C915.9 193.9 916.3 199.7 916.6 202.8C916.9 205.9 917.8 215.0 918.2 218.2C918.6 221.4 919.2 229.1 919.7 230.6C920.2 232.1 921.8 231.0 922.5 231.2C923.2 231.4 925.1 230.9 925.6 232.0C926.1 233.1 926.7 237.6 927.1 240.4C927.5 243.2 928.3 252.3 928.7 255.9C929.1 259.5 929.8 267.7 930.2 271.3C930.6 274.9 931.8 283.2 932.2 286.8C932.6 290.4 933.0 298.6 933.3 302.2C933.6 305.8 934.0 314.7 934.4 317.7C934.8 320.7 935.8 327.7 936.4 327.7C937.0 327.7 939.0 320.0 939.5 317.7C940.0 315.4 940.7 310.0 941.0 308.4C941.3 306.8 941.4 303.4 941.8 303.8C942.2 304.2 943.7 308.8 944.1 311.5C944.5 314.2 944.7 322.7 944.9 327.0C945.1 331.3 945.8 344.3 946.1 348.6C946.4 352.9 946.9 359.7 947.2 364.0C947.5 368.3 948.1 380.2 948.3 385.4C948.5 390.6 948.9 403.2 949.1 408.6C949.3 414.0 949.8 426.4 950.0 431.8C950.2 437.2 950.9 449.6 951.1 455.0C951.3 460.4 951.6 472.5 951.8 478.1C952.0 483.7 952.6 497.6 952.9 503.2C953.2 508.8 954.2 520.9 954.5 526.3C954.8 531.7 955.1 544.1 955.3 549.5C955.5 554.9 955.7 567.3 956.0 572.7C956.3 578.1 957.3 590.4 957.6 595.9C957.9 601.4 958.3 614.3 958.5 620.0C958.7 625.7 959.2 640.8 959.5 645.0C959.8 649.2 960.5 656.2 961.0 656.0C961.5 655.8 963.1 646.0 963.8 643.2C964.5 640.4 966.2 634.7 966.9 632.4C967.6 630.1 969.4 624.9 970.0 623.1C970.6 621.3 971.6 617.4 972.0 617.0C972.4 616.6 973.4 617.9 973.8 620.0C974.2 622.1 974.9 631.8 975.3 635.4C975.7 639.0 976.5 647.3 976.9 650.9C977.3 654.5 977.9 663.6 978.4 666.3C978.9 669.0 980.3 674.1 980.8 674.1C981.3 674.1 982.6 669.0 983.1 666.3C983.6 663.6 985.0 654.5 985.4 650.9C985.8 647.3 986.5 639.0 986.9 635.4C987.3 631.8 988.0 622.8 988.5 620.0C989.0 617.2 990.4 614.1 990.8 611.3C991.2 608.5 991.9 599.0 992.3 595.9C992.7 592.8 993.5 587.0 993.9 585.1C994.3 583.2 995.5 579.4 995.9 579.6C996.3 579.8 997.3 584.5 997.7 586.6C998.1 588.7 998.9 594.7 999.3 597.4C999.7 600.1 1000.4 607.6 1000.8 609.8C1001.2 612.0 1002.5 616.1 1003.1 615.9C1003.7 615.7 1005.7 608.4 1006.2 608.2C1006.7 608.0 1007.3 612.4 1007.8 614.4C1008.3 616.4 1009.7 625.0 1010.1 625.2C1010.5 625.4 1011.2 618.8 1011.6 615.9C1012.0 613.0 1012.8 604.6 1013.2 600.5C1013.6 596.4 1014.3 584.7 1014.7 580.4C1015.1 576.1 1015.9 566.3 1016.3 563.4C1016.7 560.5 1017.3 555.9 1017.8 555.7C1018.3 555.5 1020.4 559.0 1020.9 561.9C1021.4 564.8 1021.8 576.4 1022.1 580.4C1022.4 584.4 1022.9 592.3 1023.2 595.9C1023.5 599.5 1024.5 607.7 1024.8 611.3C1025.1 614.9 1025.6 622.2 1025.9 626.8C1026.2 631.4 1027.2 644.5 1027.7 650.9C1028.2 657.3 1029.5 675.5 1030.0 681.8C1030.5 688.1 1031.9 699.9 1032.4 705.0C1032.9 710.1 1034.2 724.2 1034.7 725.1C1035.2 726.0 1036.5 716.0 1037.0 712.7C1037.5 709.4 1038.8 701.7 1039.3 697.2C1039.8 692.7 1041.1 678.6 1041.6 674.1C1042.1 669.6 1043.4 661.7 1043.9 658.6C1044.4 655.5 1045.7 650.0 1046.3 647.8C1046.9 645.6 1048.9 642.4 1049.4 640.1C1049.9 637.8 1050.6 632.0 1050.9 627.7C1051.2 623.4 1051.8 609.1 1052.1 603.6C1052.4 598.1 1053.1 584.9 1053.4 580.4C1053.7 575.9 1054.5 567.7 1054.9 565.0C1055.3 562.3 1056.2 557.0 1056.6 557.2C1057.0 557.4 1058.3 563.8 1058.7 566.5C1059.1 569.2 1059.8 577.0 1060.2 580.4C1060.6 583.8 1061.5 592.3 1061.8 595.9C1062.1 599.5 1062.7 607.4 1063.0 611.3C1063.3 615.2 1063.8 625.7 1064.1 629.1C1064.4 632.5 1065.2 636.5 1065.6 640.1C1065.9 643.7 1066.7 655.3 1067.1 660.2C1067.5 665.1 1068.3 676.6 1068.7 681.8C1069.1 687.0 1070.3 699.9 1070.7 705.0C1071.1 710.1 1072.0 719.6 1072.5 725.1C1073.0 730.6 1074.3 747.6 1074.8 752.4C1075.3 757.2 1076.5 763.6 1076.9 766.3C1077.3 769.0 1078.1 775.9 1078.4 775.5C1078.7 775.1 1079.2 766.3 1079.5 763.2C1079.8 760.1 1080.6 752.0 1081.0 749.3C1081.4 746.6 1082.1 742.0 1082.6 740.0C1083.1 738.0 1085.1 732.3 1085.7 732.0C1086.3 731.7 1087.6 735.9 1088.0 737.4C1088.4 738.9 1089.1 742.1 1089.5 744.6C1089.9 747.1 1091.3 755.1 1091.8 758.5C1092.3 761.9 1093.6 770.4 1094.2 774.0C1094.8 777.6 1096.4 785.6 1097.2 789.4C1098.0 793.2 1100.1 802.4 1101.1 806.4C1102.1 810.4 1104.5 819.8 1105.7 823.4C1106.9 827.0 1109.7 834.4 1111.1 837.3C1112.5 840.2 1115.7 846.0 1117.3 848.1C1118.9 850.2 1123.1 853.7 1125.1 855.1C1127.1 856.5 1131.8 858.9 1134.3 859.7C1136.8 860.5 1143.7 861.4 1146.7 861.7C1149.7 862.0 1158.4 862.0 1160.0 862.0"/>
<path class="c" stroke="#5a2d91" stroke-dasharray="3.6 4.4" d="M424.5 862.0C424.7 860.2 425.4 853.8 425.8 846.6C426.2 839.4 427.3 811.7 427.8 800.3C428.3 788.9 429.7 759.9 430.4 748.8C431.1 737.7 432.7 714.0 433.5 705.0C434.3 696.0 436.6 680.8 437.4 671.5C438.2 662.2 439.8 637.7 440.5 625.0C441.2 612.3 442.6 576.6 443.2 563.0C443.8 549.4 444.8 520.1 445.7 508.6C446.6 497.1 449.7 476.9 450.7 464.1C451.7 451.3 453.2 410.5 453.9 399.0C454.6 387.5 455.9 373.4 456.4 365.2C456.9 357.0 457.9 336.4 458.3 329.0C458.7 321.6 459.5 306.0 460.0 301.8C460.5 297.6 462.1 292.9 462.5 292.7C462.9 292.5 462.7 302.4 463.8 300.1C464.9 297.8 470.4 273.5 472.0 272.6C473.6 271.7 476.2 295.3 477.8 292.7C479.4 290.1 484.7 253.4 486.0 250.7C487.3 248.0 488.6 264.8 489.3 269.7C490.0 274.6 491.8 286.6 492.3 292.7C492.8 298.8 493.5 314.7 493.9 322.4C494.3 330.1 495.2 350.0 495.6 358.6C496.0 367.2 496.7 386.3 497.2 395.7C497.7 405.1 499.3 428.5 500.1 439.4C500.9 450.3 502.9 477.3 503.8 488.8C504.7 500.3 506.7 526.8 507.5 538.3C508.3 549.8 510.1 577.2 510.7 587.7C511.3 598.2 512.3 618.6 512.9 628.4C513.5 638.2 514.9 659.9 515.9 671.5C516.9 683.1 519.9 716.1 521.1 728.1C522.3 740.1 524.8 764.3 526.2 774.5C527.6 784.7 531.0 807.9 532.7 815.7C534.4 823.5 538.5 836.9 540.4 841.4C542.3 845.9 547.1 852.0 549.4 854.3C551.7 856.6 557.4 859.8 559.7 860.7C562.0 861.6 566.7 861.9 568.7 862.0C570.7 862.1 575.9 862.5 577.0 861.5C578.1 859.9 578.1 852.4 578.5 848.1C578.9 843.8 579.8 830.4 580.1 825.0C580.4 819.6 581.0 808.1 581.3 801.8C581.6 795.5 582.1 777.7 582.4 770.9C582.7 764.1 583.5 750.4 583.9 743.6C584.3 736.8 585.1 718.5 585.5 712.7C585.9 706.9 586.5 697.0 587.0 694.2C587.5 691.4 588.9 688.4 589.4 688.7C589.9 689.1 591.2 694.8 591.7 697.2C592.2 699.6 593.5 706.3 594.0 709.6C594.5 712.9 595.8 721.5 596.3 725.1C596.8 728.7 598.1 737.8 598.6 740.5C599.1 743.2 599.8 748.7 600.2 748.2C600.6 747.7 601.3 740.0 601.7 735.9C602.1 731.8 602.9 719.0 603.3 712.7C603.7 706.4 604.4 688.1 604.8 681.8C605.1 675.5 605.9 664.0 606.3 658.6C606.7 653.2 607.5 639.9 607.9 635.4C608.3 630.9 609.1 623.3 609.4 620.0C609.7 616.7 609.9 610.4 610.2 606.7C610.5 603.0 611.4 591.2 611.8 588.1C612.2 585.0 612.9 580.4 613.3 580.4C613.7 580.4 615.1 585.4 615.6 588.1C616.1 590.8 616.7 599.9 617.2 603.6C617.7 607.3 619.1 615.9 619.5 620.0C619.9 624.1 620.6 634.0 621.0 638.5C621.4 643.0 622.2 653.5 622.6 658.6C623.0 663.7 623.7 676.9 624.1 681.8C624.5 686.7 625.3 695.8 625.7 700.3C626.1 704.8 626.9 715.7 627.2 720.4C627.6 725.1 628.3 736.5 628.7 740.5C629.1 744.5 629.9 752.2 630.3 754.4C630.7 756.6 631.3 759.0 631.8 759.0C632.3 759.0 633.7 756.6 634.2 754.4C634.7 752.2 635.4 744.5 635.7 740.5C636.0 736.5 636.6 725.5 636.9 720.4C637.2 715.3 637.8 702.6 638.0 697.2C638.2 691.8 638.5 678.6 638.8 674.1C639.1 669.6 639.8 661.8 640.3 658.6C640.8 655.4 642.2 649.0 642.7 646.3C643.2 643.6 644.5 638.5 645.0 635.4C645.5 632.3 646.7 624.1 647.3 620.0C647.9 615.9 649.8 606.0 650.4 600.5C651.0 595.0 652.3 579.5 652.7 572.7C653.1 565.9 653.8 549.0 654.2 541.8C654.6 534.6 655.4 517.7 655.8 510.9C656.2 504.1 656.8 489.5 657.3 483.1C657.8 476.7 659.4 461.8 660.1 455.9C660.8 450.0 662.6 439.0 663.2 432.7C663.8 426.4 665.0 409.0 665.5 401.8C666.0 394.6 667.3 378.1 667.8 370.9C668.3 363.7 669.1 345.2 669.4 340.0C669.7 334.8 669.8 329.2 670.1 326.7C670.4 324.2 671.2 318.8 671.7 318.2C672.2 317.6 674.2 321.2 674.8 321.3C675.4 321.4 676.4 322.3 677.1 319.0C677.8 315.7 679.9 296.5 680.5 292.7C681.1 288.9 682.0 285.6 682.5 286.5C683.0 287.4 684.1 296.1 684.5 300.4C684.9 304.7 685.9 318.2 686.3 323.6C686.7 329.0 687.2 342.7 687.6 346.8C688.0 350.9 689.0 356.0 689.4 358.5C689.8 361.0 690.5 367.6 691.0 368.6C691.5 369.6 693.6 366.0 694.1 367.0C694.6 368.0 695.2 374.9 695.6 377.1C696.0 379.3 697.0 386.3 697.5 385.6C698.0 384.9 699.0 374.6 699.5 370.9C700.0 367.2 701.4 357.1 701.8 353.9C702.2 350.7 702.8 347.5 703.3 343.1C703.8 338.7 705.1 323.9 705.7 315.9C706.3 307.9 708.1 282.0 708.7 274.2C709.3 266.4 710.6 253.3 711.1 249.4C711.6 245.5 712.2 240.4 712.6 240.9C713.0 241.4 714.0 251.5 714.5 254.1C715.0 256.7 715.8 261.9 716.5 263.3C717.2 264.7 719.6 264.4 720.3 266.4C721.0 268.4 722.1 276.5 722.7 280.3C723.3 284.1 725.0 297.6 725.7 298.9C726.4 300.2 728.0 295.1 728.8 291.1C729.6 287.1 731.5 268.8 732.2 264.9C732.9 261.0 734.5 257.4 735.0 257.9C735.5 258.4 736.1 264.0 736.6 269.5C737.1 275.0 738.5 297.8 738.9 305.0C739.3 312.2 740.0 326.4 740.4 331.3C740.8 336.2 741.5 345.2 742.0 346.8C742.5 348.4 744.3 348.3 745.0 345.2C745.7 342.1 747.4 327.2 748.1 320.5C748.8 313.8 750.5 295.8 751.2 288.1C751.9 280.4 753.7 260.8 754.3 254.1C754.9 247.4 756.1 235.3 756.6 230.9C757.1 226.5 758.0 216.6 758.5 216.2C759.0 215.8 760.0 224.5 760.5 227.8C761.0 231.1 762.2 242.3 762.8 244.8C763.4 247.3 765.3 248.0 765.9 249.4C766.5 250.8 767.7 254.3 768.2 257.2C768.7 260.1 769.4 268.6 769.8 274.2C770.2 279.8 771.0 298.3 771.3 305.0C771.6 311.7 772.3 326.2 772.5 331.3C772.7 336.4 773.0 345.4 773.2 349.1C773.4 352.8 773.9 357.9 774.1 363.2C774.3 368.4 775.0 387.8 775.2 394.1C775.4 400.4 775.8 411.8 776.0 417.2C776.2 422.6 776.6 435.0 776.7 440.4C776.8 445.8 777.0 458.2 777.2 463.6C777.4 469.0 778.0 481.3 778.3 486.8C778.6 492.3 779.1 504.5 779.4 510.9C779.7 517.3 780.3 534.6 780.6 541.8C780.9 549.0 781.4 565.5 781.7 572.7C782.0 579.9 782.9 597.3 783.2 603.6C783.5 609.9 784.1 622.2 784.3 626.8C784.5 631.4 784.9 638.6 785.2 643.2C785.5 647.8 786.4 660.9 786.8 666.3C787.2 671.7 788.2 684.1 788.6 689.5C789.0 694.9 789.8 707.3 790.2 712.7C790.6 718.1 791.3 730.9 791.7 735.9C792.1 740.9 792.8 751.0 793.3 755.4C793.8 759.8 795.0 769.5 795.6 774.0C796.2 778.5 797.9 789.6 798.7 794.1C799.5 798.6 801.5 808.5 802.5 812.6C803.5 816.7 806.1 826.2 807.2 829.6C808.3 833.0 810.7 839.7 811.8 842.0C812.9 844.3 815.7 848.1 817.0 849.7C818.3 851.3 821.6 854.7 823.2 855.9C824.8 857.1 828.9 859.1 830.9 859.7C832.9 860.3 837.7 861.0 840.2 861.3C842.7 861.6 851.1 861.9 852.5 862.0"/>
<path class="c" stroke="#b01515" stroke-dasharray="3.6 4.4" d="M603.3 862.0C603.4 860.4 603.8 852.4 604.0 848.1C604.2 843.8 604.5 830.4 604.8 825.0C605.1 819.6 605.9 807.2 606.3 801.8C606.7 796.4 607.6 782.4 607.9 778.6C608.2 774.8 608.5 772.3 608.7 769.1C608.9 765.9 609.1 756.1 609.4 751.3C609.7 746.5 610.6 733.0 611.0 728.1C611.4 723.2 612.1 712.8 612.5 709.6C612.9 706.4 613.6 701.9 614.1 700.3C614.6 698.7 615.9 695.5 616.4 695.7C616.9 695.9 618.2 699.9 618.7 701.9C619.2 703.9 620.5 709.6 621.0 712.7C621.5 715.8 622.2 724.5 622.6 728.1C623.0 731.7 623.7 741.0 624.1 743.6C624.5 746.2 625.2 747.7 625.7 750.0C626.2 752.3 627.5 759.3 628.0 763.2C628.5 767.1 629.8 779.2 630.3 783.3C630.8 787.4 632.1 795.5 632.6 798.7C633.1 801.9 634.4 808.3 634.9 811.0C635.4 813.7 636.6 819.6 637.2 821.9C637.8 824.2 639.5 829.1 640.3 831.1C641.1 833.1 643.3 837.3 644.2 838.9C645.1 840.5 647.1 845.8 648.1 845.1C649.1 844.4 652.0 836.9 652.7 832.7C653.4 828.5 653.8 814.4 654.2 809.5C654.6 804.6 655.3 794.6 655.8 791.0C656.3 787.4 657.5 780.9 658.1 778.6C658.7 776.3 660.4 772.2 661.2 770.9C662.0 769.6 664.4 770.0 665.1 767.8C665.8 765.6 666.9 755.9 667.4 752.0C667.9 748.1 669.2 737.3 669.7 734.3C670.2 731.3 671.5 727.7 672.0 726.6C672.5 725.5 673.8 724.2 674.3 725.1C674.8 726.0 676.1 731.8 676.6 734.3C677.1 736.8 678.5 743.8 679.0 746.7C679.5 749.6 680.9 756.5 681.3 759.0C681.7 761.5 682.4 764.8 682.8 768.0C683.2 771.2 684.5 782.9 685.1 786.3C685.7 789.7 687.6 795.6 688.2 797.2C688.8 798.8 690.0 801.6 690.5 800.3C691.0 799.0 691.8 790.6 692.1 786.3C692.4 782.0 693.0 768.6 693.2 763.2C693.4 757.8 693.9 745.0 694.1 740.0C694.3 735.0 695.0 725.4 695.2 720.4C695.4 715.4 695.7 702.6 695.9 697.2C696.1 691.8 696.5 679.5 696.7 674.1C696.9 668.7 697.3 656.0 697.5 650.9C697.7 645.8 698.1 634.6 698.3 630.0C698.5 625.4 698.7 615.1 699.0 611.3C699.3 607.5 700.1 599.9 700.6 597.4C701.1 594.9 702.4 589.7 702.9 589.7C703.4 589.7 704.7 595.4 705.2 597.4C705.7 599.4 706.4 607.8 706.8 606.7C707.2 605.6 707.9 592.1 708.3 588.1C708.7 584.1 709.4 576.7 709.9 572.7C710.4 568.7 711.8 557.8 712.2 554.2C712.6 550.6 713.3 545.1 713.7 541.8C714.1 538.5 714.8 529.9 715.3 526.3C715.8 522.7 717.1 513.6 717.6 510.9C718.1 508.2 719.4 505.4 719.9 503.2C720.4 501.0 721.8 494.5 722.2 492.4C722.6 490.3 723.3 487.5 723.6 485.0C723.9 482.5 724.5 474.7 724.7 471.3C724.9 467.9 725.3 458.6 725.7 455.9C726.1 453.2 727.5 449.6 728.1 448.1C728.7 446.6 730.6 443.8 731.1 442.7C731.6 441.6 732.2 438.6 732.7 438.9C733.2 439.2 734.5 445.4 735.0 445.0C735.5 444.6 736.1 438.7 736.6 435.8C737.1 432.9 738.5 423.4 738.9 420.3C739.3 417.2 740.0 410.4 740.4 409.5C740.8 408.6 742.1 411.9 742.7 412.6C743.3 413.3 745.3 414.1 745.8 415.7C746.3 417.3 747.0 423.6 747.4 426.5C747.8 429.4 748.6 437.0 748.9 440.4C749.2 443.8 749.7 452.3 750.0 455.9C750.3 459.5 750.7 468.2 751.2 471.3C751.7 474.4 753.6 480.1 754.3 482.1C755.0 484.1 756.6 486.9 757.4 488.3C758.2 489.7 759.9 493.6 760.8 493.9C761.7 494.2 764.5 491.6 765.5 490.8C766.5 490.0 768.4 490.0 769.0 486.8C769.6 483.6 770.5 467.6 771.0 463.6C771.5 459.6 772.5 454.3 772.9 452.8C773.3 451.3 774.0 450.0 774.4 450.5C774.8 451.0 775.9 455.0 776.3 457.4C776.7 459.8 777.2 468.2 777.5 471.3C777.8 474.4 778.6 483.7 779.0 483.7C779.4 483.7 780.2 474.2 780.6 471.3C781.0 468.4 781.7 461.2 782.1 459.0C782.5 456.8 783.8 454.1 784.4 452.8C785.0 451.5 786.8 448.5 787.5 448.1C788.2 447.7 790.0 449.3 790.6 449.7C791.2 450.1 792.4 452.3 792.9 451.2C793.4 450.1 794.1 443.3 794.5 440.4C794.9 437.5 795.6 429.0 796.0 426.5C796.4 424.0 797.1 419.9 797.6 418.8C798.1 417.7 799.4 417.6 799.9 417.2C800.4 416.8 801.7 415.2 802.2 415.7C802.7 416.2 804.0 420.6 804.5 421.9C805.0 423.2 806.0 427.4 806.5 426.5C807.0 425.6 808.0 417.1 808.4 414.2C808.8 411.3 809.5 405.1 809.9 401.8C810.3 398.5 811.1 389.9 811.5 386.3C811.9 382.7 812.7 374.5 813.0 370.9C813.3 367.3 814.0 359.0 814.3 355.4C814.6 351.8 815.1 342.8 815.3 340.0C815.5 337.2 815.6 332.4 816.1 331.3C816.6 330.2 819.0 332.0 820.0 330.5C821.0 329.0 823.7 318.5 824.6 318.2C825.5 317.9 827.2 326.2 827.7 328.2C828.2 330.2 828.7 335.7 829.2 335.2C829.7 334.7 831.6 327.7 832.3 323.6C833.0 319.5 834.8 301.8 835.4 300.4C836.0 299.0 837.2 309.0 837.7 311.2C838.2 313.4 839.5 319.4 840.1 319.0C840.7 318.6 842.5 311.7 843.1 308.1C843.7 304.5 845.0 293.5 845.5 288.1C846.0 282.7 847.2 263.4 847.8 261.8C848.4 260.2 850.2 271.6 850.9 274.2C851.6 276.8 853.2 284.2 854.0 284.2C854.8 284.2 857.0 278.3 857.8 274.2C858.6 270.1 860.3 254.7 860.9 249.4C861.5 244.1 862.8 232.3 863.3 229.0C863.8 225.7 864.5 221.7 864.9 221.3C865.3 221.0 866.3 224.4 866.7 226.0C867.1 227.6 867.7 232.5 868.0 235.2C868.3 237.9 868.9 247.5 869.4 249.4C869.9 251.3 871.8 252.9 872.5 251.8C873.2 250.7 874.9 243.9 875.6 240.2C876.3 236.5 878.1 223.7 878.7 220.1C879.3 216.5 880.7 210.4 881.1 209.0C881.5 207.6 881.9 206.8 882.2 207.7C882.5 208.6 883.1 214.2 883.4 216.7C883.7 219.2 884.4 226.3 884.7 229.0C885.1 231.7 885.9 238.4 886.4 240.2C886.9 241.9 888.3 245.3 889.0 244.0C889.7 242.7 891.9 232.5 892.6 229.4C893.3 226.3 894.7 218.2 895.2 217.8C895.7 217.4 896.6 223.0 897.0 226.0C897.4 229.0 898.1 240.4 898.5 243.5C898.9 246.6 899.6 251.1 900.1 252.8C900.6 254.5 901.9 258.6 902.4 258.2C902.9 257.8 904.2 252.1 904.7 249.7C905.2 247.3 906.5 240.4 907.0 237.4C907.5 234.4 908.5 227.4 908.9 224.4C909.3 221.4 910.2 213.9 910.5 212.0C910.8 210.1 911.1 207.7 911.5 208.2C911.9 208.7 913.2 214.4 913.5 216.7C913.8 219.0 914.1 224.4 914.3 228.1C914.5 231.8 915.0 243.2 915.2 248.2C915.4 253.2 916.0 265.9 916.3 271.3C916.6 276.7 917.4 288.7 917.8 294.5C918.2 300.3 919.0 315.2 919.4 320.8C919.8 326.4 920.9 337.4 921.4 342.4C921.9 347.4 922.9 360.8 923.3 364.0C923.7 367.2 924.2 367.5 924.5 370.0C924.8 372.5 925.3 381.8 925.6 385.4C925.9 389.0 926.7 397.3 927.1 400.9C927.5 404.5 928.9 415.5 929.4 416.3C929.9 417.1 931.3 409.6 931.8 407.9C932.3 406.2 932.8 402.0 933.3 401.7C933.8 401.4 935.6 404.0 936.4 405.5C937.2 407.0 939.3 412.6 940.2 414.8C941.1 417.0 943.4 421.8 944.1 424.1C944.8 426.4 945.9 432.9 946.4 434.9C946.9 436.9 947.5 441.5 948.0 441.1C948.5 440.7 949.8 434.7 950.3 431.8C950.8 428.9 952.1 418.6 952.6 416.3C953.1 414.0 954.5 411.6 954.9 412.5C955.3 413.4 955.5 421.0 955.7 424.1C955.9 427.2 956.5 436.3 956.8 439.5C957.1 442.7 957.7 449.4 958.0 451.9C958.3 454.4 959.1 461.3 959.6 461.1C960.1 460.9 961.4 452.8 961.9 450.3C962.4 447.8 963.8 441.1 964.2 439.5C964.6 437.9 965.1 435.5 965.4 436.4C965.7 437.3 966.2 444.1 966.5 447.2C966.8 450.3 967.6 459.1 968.1 462.7C968.6 466.3 969.8 474.9 970.4 478.1C971.0 481.3 972.8 488.7 973.5 490.5C974.2 492.3 976.1 494.5 976.6 493.6C977.1 492.7 977.2 486.0 977.6 482.8C978.0 479.6 979.1 469.1 979.6 465.8C980.1 462.5 981.5 455.8 982.0 454.2C982.5 452.6 983.9 454.0 984.3 451.9C984.7 449.8 985.4 440.2 985.8 436.4C986.2 432.6 986.9 422.3 987.4 419.4C987.9 416.5 988.9 412.9 989.7 411.7C990.5 410.5 993.6 408.9 994.3 409.4C995.0 409.9 995.5 413.7 995.9 416.3C996.3 418.9 997.1 427.8 997.4 431.8C997.7 435.8 998.3 445.8 998.6 450.3C998.9 454.8 999.4 465.7 999.7 470.4C1000.0 475.1 1000.5 485.8 1000.8 490.5C1001.1 495.2 1001.9 507.1 1002.4 510.9C1002.9 514.7 1004.1 520.6 1004.7 523.3C1005.3 526.0 1007.0 533.1 1007.8 534.1C1008.6 535.1 1011.0 530.9 1011.6 531.8C1012.2 532.7 1012.7 539.2 1013.2 541.8C1013.7 544.4 1015.0 551.7 1015.5 554.2C1016.0 556.7 1016.5 562.9 1017.1 563.4C1017.7 563.9 1020.3 561.3 1020.9 558.8C1021.5 556.3 1022.1 545.6 1022.5 541.8C1022.9 538.0 1023.6 529.9 1024.0 526.3C1024.3 522.7 1025.1 514.5 1025.5 510.9C1025.9 507.3 1026.6 496.3 1027.1 495.4C1027.6 494.5 1029.6 501.0 1030.2 503.2C1030.8 505.4 1031.8 512.5 1032.5 514.0C1033.2 515.5 1035.8 514.9 1036.4 516.3C1037.0 517.7 1037.5 523.0 1037.9 526.3C1038.3 529.6 1039.1 540.4 1039.5 544.9C1039.9 549.4 1040.7 560.0 1041.0 565.0C1041.3 570.0 1042.1 582.7 1042.5 588.1C1042.9 593.5 1043.7 606.8 1044.1 611.3C1044.5 615.8 1045.3 624.0 1045.6 626.8C1045.9 629.6 1046.2 632.6 1046.4 635.4C1046.6 638.2 1047.3 647.3 1047.5 650.9C1047.7 654.5 1048.1 663.2 1048.3 666.3C1048.5 669.4 1048.7 673.3 1049.0 677.2C1049.3 681.1 1050.1 694.4 1050.5 700.0C1050.9 705.6 1052.0 719.2 1052.5 725.0C1053.0 730.8 1054.4 743.8 1055.0 750.0C1055.6 756.2 1057.2 772.2 1058.0 778.0C1058.8 783.8 1061.0 794.5 1062.0 800.0C1063.0 805.5 1065.5 819.8 1067.0 825.0C1068.5 830.2 1072.9 841.4 1075.0 845.0C1077.1 848.6 1082.3 854.1 1085.0 856.0C1087.7 857.9 1096.5 860.9 1098.0 861.5"/>
<path class="c" stroke="#f2bb28" stroke-dasharray="3.6 4.4" d="M599.4 862.0C599.6 859.5 600.5 846.0 600.9 840.4C601.3 834.8 602.1 820.0 602.5 814.2C602.9 808.4 603.6 795.2 604.0 791.0C604.4 786.8 605.7 780.4 606.3 778.6C606.9 776.9 608.3 775.3 609.0 776.0C609.7 776.7 611.7 782.7 612.5 784.8C613.3 786.9 614.8 791.8 615.6 794.1C616.4 796.4 618.6 802.2 619.5 804.9C620.4 807.6 622.4 814.3 623.3 817.2C624.2 820.1 626.3 827.1 627.2 829.6C628.1 832.1 630.2 837.1 631.1 838.9C632.0 840.7 634.2 846.7 634.9 845.1C635.6 843.5 636.7 830.1 637.2 825.0C637.7 819.9 638.4 806.3 638.8 801.8C639.2 797.3 639.8 789.9 640.3 786.3C640.8 782.7 642.2 773.1 642.7 770.9C643.2 768.7 644.4 767.3 645.0 767.8C645.6 768.3 647.4 773.3 648.1 775.5C648.8 777.7 650.4 783.6 651.1 786.3C651.8 789.0 653.5 796.0 654.2 798.7C654.9 801.4 656.6 807.5 657.3 809.5C658.0 811.5 659.8 816.6 660.4 815.7C661.0 814.8 662.2 805.2 662.7 801.8C663.2 798.4 663.9 790.3 664.3 786.3C664.7 782.3 665.4 773.2 665.8 767.8C666.2 762.4 667.1 746.8 667.4 740.0C667.7 733.2 667.8 715.5 668.1 709.6C668.4 703.7 669.2 692.8 669.7 689.5C670.2 686.2 671.4 681.5 672.0 681.0C672.6 680.5 674.5 683.0 675.1 684.9C675.7 686.8 676.9 694.0 677.4 697.2C677.9 700.4 678.6 709.1 679.0 712.7C679.4 716.3 680.1 724.5 680.5 728.1C680.9 731.7 681.5 740.4 682.0 743.6C682.5 746.8 684.6 752.2 685.1 755.4C685.6 758.6 686.2 767.3 686.7 770.9C687.2 774.5 688.4 782.7 689.0 786.3C689.6 789.9 691.4 798.2 692.1 801.8C692.8 805.4 694.4 813.6 695.2 817.2C696.0 820.8 698.0 829.6 699.0 832.7C700.0 835.8 702.6 841.3 703.7 843.5C704.8 845.7 707.0 849.8 708.3 851.2C709.6 852.6 713.1 854.9 714.5 855.9C715.9 856.9 719.5 859.5 720.7 859.7C721.9 859.9 723.9 859.7 724.5 857.4C725.1 855.1 725.7 846.0 726.1 840.4C726.5 834.8 727.2 816.7 727.6 809.5C728.0 802.3 728.8 785.8 729.2 778.6C729.6 771.4 730.3 753.6 730.7 747.7C731.1 741.8 732.5 735.7 733.0 728.0C733.5 720.3 734.2 692.6 734.6 681.8C735.0 671.0 735.7 649.9 736.1 635.4C736.5 620.9 737.2 574.7 737.7 557.2C738.2 539.7 739.6 495.0 740.0 485.0C740.4 475.0 741.0 475.6 741.2 471.3C741.4 467.0 741.5 453.3 741.7 448.1C741.9 442.9 742.4 431.5 742.7 426.5C743.0 421.5 743.9 409.6 744.3 404.9C744.7 400.2 745.5 390.6 745.8 386.3C746.1 382.0 746.3 370.3 746.6 367.8C746.9 365.3 747.8 365.0 748.3 365.0C748.8 365.0 750.2 365.3 750.5 367.8C750.8 370.3 750.7 382.3 750.9 386.3C751.1 390.3 752.0 397.5 752.5 401.8C753.0 406.1 754.5 418.9 755.1 423.4C755.7 427.9 756.9 436.1 757.4 440.4C757.9 444.7 758.6 456.0 759.0 460.5C759.4 465.0 760.2 474.0 760.5 479.0C760.8 484.0 761.3 496.8 761.6 503.2C761.9 509.6 762.8 526.9 763.2 534.1C763.6 541.3 764.4 557.8 764.7 565.0C765.1 572.2 765.7 589.6 766.2 595.9C766.7 602.2 768.1 614.0 768.6 619.0C769.1 624.0 770.4 637.5 770.9 638.5C771.4 639.5 772.7 631.8 773.2 627.7C773.7 623.6 775.1 610.0 775.5 603.6C775.9 597.2 776.0 579.9 776.3 572.7C776.6 565.5 777.4 547.2 777.8 541.8C778.2 536.4 779.0 528.4 779.4 526.3C779.8 524.2 780.4 523.3 780.9 524.0C781.4 524.7 782.9 529.0 783.5 532.0C784.1 535.0 785.6 547.1 786.0 550.0C786.4 552.9 786.8 558.4 787.1 557.2C787.4 556.0 788.2 544.3 788.5 540.0C788.8 535.7 789.6 524.7 790.0 520.0C790.4 515.3 791.2 504.2 791.5 500.0C791.8 495.8 792.3 487.8 792.8 484.0C793.3 480.2 795.1 467.9 795.6 467.2C796.1 466.5 796.8 476.1 797.4 478.3C798.0 480.5 800.3 486.4 801.1 485.8C801.9 485.2 803.4 476.5 803.9 472.8C804.4 469.1 805.4 459.6 805.8 454.2C806.2 448.8 807.2 431.8 807.6 426.4C808.0 421.0 809.1 410.6 809.5 407.8C809.9 405.0 810.8 402.7 811.3 402.3C811.8 401.9 813.0 402.7 813.5 404.0C814.0 405.3 815.5 409.7 816.0 413.4C816.5 417.1 817.5 430.9 817.8 435.7C818.1 440.5 818.6 449.4 818.8 454.2C819.0 459.0 819.5 472.3 819.7 476.5C819.9 480.7 820.7 486.9 820.9 490.0C821.1 493.1 821.4 499.0 821.6 503.2C821.8 507.4 822.2 520.9 822.4 526.3C822.6 531.7 823.2 544.1 823.5 549.5C823.8 554.9 824.4 567.3 824.7 572.7C825.0 578.1 825.8 591.0 826.3 595.9C826.8 600.8 828.1 613.9 828.6 614.4C829.1 614.9 830.4 604.5 830.9 600.5C831.4 596.5 832.7 584.2 833.2 580.4C833.7 576.6 834.4 568.7 834.8 568.1C835.2 567.5 836.1 572.3 836.5 575.0C836.9 577.7 838.2 587.5 838.6 591.2C839.0 594.9 839.9 603.3 840.2 606.7C840.5 610.1 841.0 617.2 841.3 620.6C841.6 624.0 842.5 632.4 842.8 636.0C843.1 639.6 843.6 648.2 843.8 651.5C844.0 654.8 844.7 660.9 844.9 663.9C845.1 666.9 845.5 674.4 845.9 677.2C846.3 680.0 847.4 685.2 848.0 687.5C848.6 689.8 850.4 696.2 851.0 696.8C851.6 697.4 852.6 695.8 853.0 692.7C853.4 689.6 854.1 675.6 854.5 670.0C854.9 664.4 855.6 650.8 856.0 645.0C856.4 639.2 857.2 624.9 857.5 620.0C857.8 615.1 858.5 606.5 858.7 603.0C858.9 599.5 859.3 592.5 859.5 590.0C859.7 587.5 860.2 584.2 860.6 582.0C861.0 579.8 862.1 571.5 862.6 571.1C863.1 570.7 864.4 576.0 864.9 578.9C865.4 581.8 866.8 593.2 867.2 595.9C867.6 598.6 868.3 599.7 868.6 602.0C868.9 604.3 869.4 612.0 869.6 615.4C869.8 618.8 870.3 627.3 870.6 630.9C870.9 634.5 871.9 643.2 872.2 646.3C872.5 649.4 872.9 655.4 873.2 657.7C873.5 660.0 874.3 666.6 874.7 665.9C875.1 665.2 876.5 654.4 876.8 651.5C877.1 648.6 877.2 644.2 877.3 641.2C877.4 638.2 877.5 629.2 877.8 625.7C878.1 622.2 879.2 615.3 879.6 611.3C880.0 607.3 880.7 595.3 881.1 591.2C881.5 587.1 882.9 579.8 883.4 575.8C883.9 571.8 884.5 559.7 885.0 557.2C885.5 554.7 886.8 553.5 887.3 554.2C887.8 554.9 889.0 563.9 889.6 563.4C890.2 562.9 892.1 553.8 892.7 549.5C893.3 545.2 894.5 531.2 895.0 526.3C895.5 521.4 896.8 512.0 897.3 507.8C897.8 503.6 898.9 494.3 899.3 490.5C899.7 486.7 900.5 478.7 900.9 475.1C901.3 471.5 902.0 463.2 902.4 459.6C902.8 456.0 903.4 446.7 903.9 444.2C904.4 441.7 906.4 439.8 907.0 438.0C907.6 436.2 908.9 431.2 909.4 428.7C909.9 426.2 910.5 419.5 910.9 416.3C911.2 413.1 912.1 403.3 912.4 400.9C912.7 398.5 913.4 394.6 913.7 395.5C914.0 396.4 914.6 405.3 914.8 408.6C915.0 411.9 915.6 420.5 915.8 424.1C916.0 427.7 916.6 435.7 916.8 439.5C917.0 443.3 917.6 452.3 917.8 456.5C918.0 460.7 918.4 471.2 918.6 475.1C918.8 479.0 919.3 487.3 919.5 490.0C919.7 492.7 920.2 494.3 920.5 498.5C920.8 502.7 921.7 520.3 922.0 526.3C922.3 532.2 923.0 544.1 923.3 549.5C923.6 554.9 924.2 567.3 924.4 572.7C924.6 578.1 925.1 590.4 925.4 595.9C925.7 601.4 926.4 614.5 926.7 620.0C927.0 625.5 927.8 637.8 928.2 643.2C928.6 648.6 929.4 660.9 929.8 666.3C930.2 671.7 930.9 684.1 931.3 689.5C931.7 694.9 932.5 707.3 932.9 712.7C933.3 718.1 934.0 732.1 934.4 735.9C934.8 739.7 935.4 742.7 935.9 745.0C936.4 747.3 937.7 752.0 938.3 755.4C938.9 758.8 940.6 769.7 941.4 774.0C942.2 778.3 944.3 788.7 945.2 792.5C946.1 796.3 948.3 804.1 949.1 806.4C949.9 808.7 951.8 815.8 952.2 812.6C952.6 809.4 952.5 785.3 952.6 778.6C952.7 771.9 952.7 759.9 952.9 755.4C953.1 750.9 954.2 746.5 954.5 740.0C954.8 733.5 955.2 709.3 955.5 700.0C955.8 690.7 956.7 668.3 957.0 660.0C957.3 651.7 958.1 634.2 958.4 629.1C958.7 624.0 959.5 618.5 959.9 615.9C960.3 613.3 961.7 606.7 962.2 606.7C962.7 606.7 964.1 614.1 964.5 615.9C964.9 617.7 964.9 619.7 965.3 622.0C965.7 624.3 967.1 632.0 967.6 635.4C968.1 638.8 968.8 647.3 969.2 650.9C969.6 654.5 970.3 662.7 970.7 666.3C971.1 669.9 971.9 678.2 972.3 681.8C972.7 685.4 973.4 693.6 973.8 697.2C974.1 700.8 974.8 708.8 975.3 712.7C975.8 716.6 977.2 731.1 977.7 731.0C978.2 730.9 979.5 714.7 980.0 712.0C980.5 709.3 981.4 707.9 982.0 708.0C982.6 708.1 984.7 710.7 985.4 712.7C986.1 714.7 987.2 721.9 987.7 725.1C988.2 728.3 989.5 737.4 990.0 740.5C990.5 743.6 991.8 749.9 992.3 752.0C992.8 754.1 993.4 755.9 993.9 758.5C994.4 761.1 995.6 770.0 996.2 774.0C996.8 778.0 998.5 788.2 999.3 792.5C1000.1 796.8 1002.1 806.8 1003.1 811.0C1004.1 815.2 1006.6 824.5 1007.8 828.1C1009.0 831.7 1011.8 839.3 1013.2 842.0C1014.6 844.7 1017.8 849.4 1019.4 851.2C1021.0 853.0 1025.3 856.3 1027.1 857.4C1028.9 858.5 1032.7 860.0 1034.8 860.5C1036.9 861.0 1043.8 861.8 1045.0 862.0"/>
<path class="c" stroke="#22a2d9" stroke-dasharray="3.6 4.4" d="M615.6 862.0C615.8 859.5 616.8 845.6 617.2 840.4C617.6 835.2 618.3 822.6 618.7 817.2C619.1 811.8 620.5 799.5 621.0 794.1C621.5 788.7 622.8 775.4 623.3 770.9C623.8 766.4 624.5 758.4 624.9 755.4C625.3 752.4 626.1 747.3 626.4 745.0C626.7 742.7 627.0 738.8 627.2 735.9C627.4 733.0 627.8 723.5 628.0 720.4C628.2 717.3 628.3 711.4 628.7 709.6C629.1 707.8 630.5 705.4 631.1 705.0C631.7 704.6 633.7 705.2 634.2 706.5C634.7 707.8 635.4 713.3 635.7 715.8C636.1 718.3 636.7 725.2 637.2 728.1C637.7 731.0 639.1 737.4 639.6 740.5C640.1 743.6 641.4 751.5 641.9 754.4C642.4 757.3 643.8 763.6 644.2 765.2C644.6 766.8 645.1 768.7 645.5 768.0C645.9 767.3 646.9 761.7 647.3 759.0C647.6 756.3 648.2 748.6 648.5 745.0C648.8 741.4 649.3 732.7 649.5 728.0C649.7 723.3 650.2 710.6 650.5 705.0C650.8 699.4 651.5 685.8 651.8 680.0C652.1 674.2 652.8 660.2 653.2 655.0C653.6 649.8 654.5 638.5 655.0 635.0C655.5 631.5 656.8 628.3 657.3 625.2C657.8 622.1 658.5 611.8 658.9 608.2C659.3 604.6 659.9 596.6 660.4 594.3C660.9 592.0 662.8 590.6 663.5 588.1C664.2 585.6 666.0 575.9 666.6 572.7C667.2 569.5 668.4 563.2 668.9 560.3C669.4 557.4 670.7 549.6 671.2 548.0C671.7 546.4 672.6 545.7 673.1 546.4C673.6 547.1 674.7 551.9 675.1 554.2C675.5 556.5 676.2 563.4 676.6 566.5C677.0 569.6 677.8 577.2 678.2 580.4C678.6 583.6 679.3 592.1 679.7 594.3C680.1 596.5 680.9 599.7 681.3 599.0C681.7 598.3 682.5 591.2 682.8 588.1C683.1 585.0 683.4 577.2 683.6 572.7C683.8 568.2 684.5 554.0 684.8 549.5C685.1 545.0 685.6 538.6 685.9 534.1C686.2 529.6 686.7 515.4 687.0 510.9C687.3 506.4 687.9 498.4 688.2 495.4C688.5 492.4 689.2 488.3 689.6 485.5C690.0 482.7 691.3 474.4 691.8 471.3C692.3 468.2 693.7 459.0 694.1 459.0C694.5 459.0 695.2 468.3 695.6 471.3C696.0 474.3 697.3 482.2 697.7 485.0C698.1 487.8 698.6 493.6 699.0 495.4C699.4 497.2 700.9 498.7 701.4 500.1C701.9 501.5 702.5 505.6 702.9 507.8C703.2 510.0 704.1 515.5 704.4 518.6C704.7 521.7 705.2 530.5 705.5 534.1C705.8 537.7 706.6 545.9 706.8 549.5C707.0 553.1 707.3 561.4 707.5 565.0C707.7 568.6 708.1 576.8 708.3 580.4C708.5 584.0 708.8 592.3 709.1 595.9C709.4 599.5 710.2 607.7 710.6 611.3C711.0 614.9 711.9 623.1 712.2 626.8C712.5 630.5 712.6 638.6 712.9 643.2C713.2 647.8 714.1 661.3 714.5 666.3C714.9 671.3 715.6 681.9 716.0 686.4C716.4 690.9 717.2 701.2 717.6 705.0C718.0 708.8 718.7 716.0 719.1 718.9C719.5 721.8 720.3 730.1 720.7 729.7C721.1 729.3 721.8 718.1 722.2 715.8C722.6 713.5 723.3 710.8 723.8 709.6C724.3 708.4 726.2 706.4 726.9 705.7C727.6 705.0 729.4 705.3 729.9 703.4C730.4 701.5 731.2 693.8 731.5 689.5C731.8 685.2 732.1 671.7 732.3 666.3C732.5 660.9 732.8 648.6 733.0 643.2C733.2 637.8 733.6 626.2 733.8 620.0C734.0 613.8 734.3 597.3 734.5 590.0C734.7 582.7 735.0 563.7 735.3 557.2C735.6 550.7 736.5 538.6 736.9 534.1C737.3 529.6 738.0 522.2 738.4 518.6C738.8 515.0 739.5 506.3 740.0 503.2C740.5 500.1 741.9 494.0 742.3 492.4C742.7 490.8 742.9 492.5 743.2 489.1C743.5 485.7 744.7 469.3 745.1 463.6C745.5 457.9 746.2 444.7 746.6 440.4C747.0 436.1 748.4 429.6 748.9 426.5C749.4 423.4 750.7 417.1 751.2 414.2C751.7 411.3 752.5 404.3 752.8 401.8C753.1 399.3 753.1 393.0 753.5 392.5C753.9 392.0 755.4 397.7 755.9 397.2C756.4 396.7 757.7 391.0 758.2 387.9C758.7 384.8 760.1 374.7 760.5 370.9C760.9 367.1 761.6 359.0 762.0 355.4C762.4 351.8 763.1 345.5 763.6 340.0C764.1 334.5 765.4 315.1 765.9 308.1C766.4 301.1 767.7 284.9 768.2 280.3C768.7 275.7 769.3 270.0 769.8 268.7C770.3 267.4 771.7 268.1 772.1 269.5C772.5 270.9 772.6 279.4 773.2 280.3C773.8 281.2 776.7 276.5 777.5 277.2C778.3 277.9 779.3 282.9 779.8 286.5C780.3 290.1 781.5 302.9 782.1 308.1C782.7 313.3 784.6 326.5 785.2 331.3C785.8 336.1 787.1 346.3 787.5 349.1C787.9 351.9 787.9 352.3 788.3 355.4C788.7 358.5 790.1 371.3 790.6 375.5C791.1 379.7 792.4 387.9 792.9 391.0C793.4 394.1 794.7 398.3 795.3 401.8C795.9 405.3 797.6 416.2 798.3 420.8C799.0 425.4 800.6 436.6 801.1 441.2C801.6 445.8 802.6 454.8 803.0 459.8C803.4 464.8 804.4 478.1 804.8 483.9C805.2 489.7 806.3 504.3 806.7 509.9C807.1 515.5 808.1 527.8 808.6 532.1C809.1 536.4 810.8 544.3 811.3 547.0C811.8 549.7 812.7 555.7 813.2 555.3C813.7 554.9 815.5 546.9 816.0 543.3C816.5 539.7 817.4 529.0 817.8 524.7C818.2 520.4 819.3 510.1 819.7 506.2C820.1 502.3 821.1 495.2 821.5 491.3C821.9 487.4 823.0 477.1 823.4 472.8C823.8 468.5 824.8 458.1 825.2 454.2C825.6 450.3 826.7 441.3 827.1 439.4C827.5 437.5 828.7 436.6 829.0 437.5C829.3 438.4 829.6 443.1 829.9 446.8C830.2 450.5 831.3 463.8 831.7 469.0C832.1 474.2 833.2 485.5 833.6 491.3C834.0 497.1 835.1 513.0 835.5 519.1C835.9 525.2 836.9 538.6 837.3 543.3C837.7 548.0 838.8 556.5 839.2 559.0C839.6 561.5 840.6 566.6 841.0 565.0C841.4 563.4 842.4 549.3 842.8 545.0C843.2 540.7 844.3 529.6 844.7 528.4C845.1 527.2 846.0 531.6 846.5 535.0C847.0 538.4 848.2 552.4 848.7 557.2C849.2 562.0 850.5 572.4 851.0 575.8C851.5 579.2 852.8 587.3 853.3 586.6C853.8 585.9 855.0 574.3 855.5 570.0C856.0 565.7 856.8 553.7 857.2 549.5C857.6 545.3 858.3 537.6 858.7 534.1C859.1 530.6 860.0 522.4 860.5 519.1C861.0 515.8 862.4 509.0 863.3 506.2C864.2 503.4 866.8 496.9 867.9 495.0C869.0 493.1 871.9 492.1 872.6 489.5C873.3 486.9 873.2 476.9 873.5 472.8C873.8 468.7 874.9 457.5 875.3 454.2C875.7 450.9 876.7 446.4 877.2 444.9C877.7 443.4 879.6 443.4 880.0 441.2C880.4 439.0 880.6 430.3 880.9 426.4C881.2 422.5 882.4 412.1 882.8 407.8C883.2 403.5 884.2 394.3 884.6 389.3C885.0 384.3 886.1 369.6 886.5 365.0C886.9 360.4 887.6 354.5 888.0 350.0C888.4 345.5 888.9 331.6 889.5 326.7C890.1 321.8 892.7 312.8 893.4 308.1C894.1 303.4 895.0 290.5 895.7 286.5C896.4 282.5 898.7 276.4 899.5 274.2C900.3 272.0 901.9 268.6 902.4 267.5C902.9 266.4 903.5 263.6 903.9 264.4C904.3 265.2 905.2 271.4 905.5 274.4C905.8 277.4 906.4 285.7 906.6 289.9C906.8 294.1 907.3 305.0 907.5 310.0C907.7 315.0 908.3 327.7 908.6 333.1C908.9 338.5 909.5 351.5 909.7 356.3C909.9 361.1 910.4 369.8 910.6 374.1C910.8 378.4 911.2 388.3 911.4 393.2C911.6 398.1 912.1 410.9 912.4 416.3C912.7 421.7 913.4 434.1 913.7 439.5C914.0 444.9 914.6 457.3 914.8 462.7C915.0 468.1 915.4 480.8 915.8 485.9C916.1 491.0 917.4 503.1 917.8 506.0C918.2 508.9 918.7 508.0 919.0 510.9C919.3 513.8 920.1 526.5 920.5 531.0C920.9 535.5 921.6 544.6 922.0 549.5C922.4 554.4 923.3 567.3 923.6 572.7C923.9 578.1 924.5 590.9 924.8 595.9C925.1 600.9 925.6 612.0 925.9 615.9C926.2 619.8 926.5 624.0 927.0 629.1C927.5 634.2 929.2 653.5 930.0 660.0C930.8 666.5 933.1 680.9 934.0 685.0C934.9 689.1 937.1 695.4 938.0 695.0C938.9 694.6 941.3 685.3 942.1 681.8C942.9 678.3 944.0 668.7 944.5 665.0C945.0 661.3 946.0 653.5 946.5 650.0C947.0 646.5 948.1 638.3 948.5 635.0C948.9 631.7 949.9 625.7 950.2 622.0C950.5 618.3 951.2 607.9 951.4 603.6C951.6 599.3 952.0 589.1 952.2 585.1C952.4 581.1 952.6 572.9 952.9 569.6C953.2 566.3 954.1 559.4 954.5 557.2C954.9 555.0 955.6 551.1 956.0 551.1C956.4 551.1 957.2 554.7 957.6 557.2C958.0 559.7 958.7 569.1 959.1 572.7C959.5 576.3 960.3 584.5 960.7 588.1C961.1 591.7 961.8 600.0 962.2 603.6C962.6 607.2 963.3 614.4 963.8 619.0C964.3 623.6 965.7 637.7 966.1 643.2C966.5 648.7 967.2 660.9 967.6 666.3C968.0 671.7 968.8 684.1 969.2 689.5C969.6 694.9 970.3 707.3 970.7 712.7C971.1 718.1 971.9 730.9 972.3 735.9C972.7 740.9 973.3 751.0 973.8 755.4C974.3 759.8 976.1 769.5 976.9 774.0C977.7 778.5 979.8 789.4 980.8 794.1C981.8 798.8 984.3 809.9 985.4 814.2C986.5 818.5 988.8 827.7 990.0 831.1C991.2 834.5 994.0 841.0 995.4 843.5C996.8 846.0 1000.7 851.1 1002.4 852.8C1004.1 854.5 1008.1 857.2 1010.1 858.2C1012.1 859.2 1017.1 860.9 1019.4 861.3C1021.7 861.7 1028.8 861.9 1030.0 862.0"/>
<path class="c" stroke="#af0f0f" stroke-dasharray="16 4.5" d="M817.2 862.0C817.4 860.4 818.6 850.6 818.8 848.1C819.0 845.6 819.1 844.9 819.3 840.4C819.5 835.9 820.5 816.7 820.9 809.5C821.3 802.3 822.0 785.8 822.4 778.6C822.8 771.4 823.4 755.0 823.9 747.7C824.4 740.4 825.8 721.7 826.3 715.8C826.8 709.9 827.4 700.3 827.8 697.2C828.2 694.1 828.9 689.5 829.4 689.5C829.9 689.5 831.4 695.0 832.0 697.0C832.6 699.0 834.2 706.8 834.8 706.5C835.4 706.2 836.6 697.4 837.1 694.2C837.6 691.0 839.0 680.9 839.4 678.7C839.8 676.5 840.4 675.2 840.9 675.6C841.4 676.0 842.8 679.6 843.3 681.8C843.8 684.0 845.1 693.8 845.6 694.2C846.1 694.6 847.4 687.2 847.9 684.9C848.4 682.6 849.6 675.9 850.2 674.1C850.8 672.3 852.7 668.5 853.3 669.4C853.9 670.3 855.1 678.6 855.6 681.8C856.1 685.0 856.7 693.2 857.2 697.2C857.7 701.2 859.0 711.3 859.5 715.8C860.0 720.3 861.4 732.5 861.8 735.9C862.2 739.3 862.8 742.4 863.3 745.0C863.8 747.6 865.2 754.9 865.7 758.5C866.2 762.1 867.4 771.7 868.0 775.5C868.6 779.3 870.6 790.6 871.1 791.0C871.6 791.4 872.2 782.4 872.6 778.6C873.0 774.8 873.7 762.5 874.2 758.5C874.7 754.5 875.9 746.6 876.5 744.6C877.1 742.6 878.9 742.7 879.6 741.5C880.3 740.3 882.2 736.8 882.7 734.3C883.2 731.8 883.9 723.5 884.2 720.4C884.6 717.3 885.2 710.5 885.7 708.1C886.2 705.7 887.5 699.8 888.1 699.6C888.7 699.4 890.5 704.2 891.1 706.5C891.7 708.8 893.0 715.7 893.5 718.9C894.0 722.1 895.4 731.6 895.8 734.3C896.2 737.0 896.9 742.4 897.3 742.0C897.7 741.6 899.1 734.3 899.6 731.2C900.1 728.1 901.5 718.1 902.0 715.8C902.5 713.5 903.7 710.7 904.3 711.1C904.9 711.5 906.8 716.6 907.4 718.9C908.0 721.2 909.3 728.7 909.7 731.2C910.1 733.7 910.7 736.8 911.2 740.0C911.7 743.2 913.6 754.0 914.3 758.5C915.0 763.0 916.9 775.0 917.4 778.6C917.9 782.2 918.6 789.4 919.0 789.4C919.4 789.4 920.1 782.2 920.5 778.6C920.9 775.0 922.3 762.5 922.8 758.5C923.3 754.5 924.5 746.5 925.1 744.6C925.7 742.7 927.5 741.6 928.2 742.0C928.9 742.4 930.6 745.2 931.3 747.7C932.0 750.2 933.7 759.0 934.4 763.2C935.1 767.4 936.7 778.8 937.5 783.3C938.3 787.8 940.4 797.7 941.4 801.8C942.4 805.9 944.9 815.2 946.0 818.8C947.1 822.4 949.4 829.6 950.6 832.7C951.8 835.8 955.1 845.1 956.0 845.1C956.9 845.1 957.9 836.9 958.4 832.7C958.9 828.5 959.5 814.6 959.9 809.5C960.2 804.4 960.9 793.5 961.4 789.4C961.9 785.3 963.2 776.5 963.8 774.0C964.4 771.5 966.2 767.8 966.9 767.8C967.6 767.8 969.2 771.8 969.9 774.0C970.6 776.2 972.2 783.1 973.0 786.3C973.8 789.5 975.9 798.2 976.9 801.8C977.9 805.4 980.4 813.8 981.5 817.2C982.6 820.6 985.0 828.0 986.2 831.1C987.4 834.2 990.7 843.3 991.6 843.5C992.5 843.7 993.5 836.7 993.9 832.7C994.3 828.7 995.0 814.6 995.4 809.5C995.8 804.4 996.5 793.5 997.0 789.4C997.5 785.3 998.7 776.6 999.3 774.0C999.9 771.4 1001.7 767.2 1002.4 767.0C1003.1 766.8 1004.8 770.5 1005.5 772.4C1006.2 774.3 1007.8 780.4 1008.6 783.3C1009.4 786.2 1011.5 794.1 1012.4 797.2C1013.3 800.3 1015.7 807.3 1016.3 809.5C1016.9 811.7 1017.4 816.6 1017.8 815.7C1018.2 814.8 1019.0 805.6 1019.4 801.8C1019.8 798.0 1020.5 787.8 1020.9 783.3C1021.3 778.8 1022.1 766.5 1022.5 763.2C1022.9 759.9 1023.3 756.7 1024.0 755.4C1024.7 754.1 1027.8 754.2 1028.6 752.4C1029.4 750.6 1030.6 741.9 1031.0 740.0C1031.4 738.1 1031.4 739.1 1031.7 735.9C1032.0 732.7 1032.9 718.1 1033.3 712.7C1033.7 707.3 1034.4 694.4 1034.8 689.5C1035.2 684.6 1035.9 675.1 1036.4 671.0C1036.9 666.9 1038.2 657.1 1038.7 654.0C1039.2 650.9 1040.5 645.1 1041.0 644.7C1041.5 644.3 1042.8 648.4 1043.3 650.9C1043.8 653.4 1045.1 662.3 1045.6 666.3C1046.1 670.3 1047.5 680.9 1048.0 684.9C1048.5 688.9 1049.1 696.2 1049.5 700.3C1049.9 704.4 1051.3 715.7 1051.8 720.4C1052.3 725.1 1053.6 736.1 1054.1 740.5C1054.6 744.9 1055.8 754.1 1056.3 758.5C1056.8 762.9 1058.0 773.9 1058.6 778.6C1059.2 783.3 1060.9 794.2 1061.7 798.7C1062.5 803.2 1064.6 813.2 1065.6 817.2C1066.6 821.2 1069.0 829.4 1070.2 832.7C1071.4 836.0 1074.2 842.7 1075.6 845.1C1077.0 847.5 1080.2 851.9 1081.8 853.5C1083.4 855.1 1087.5 858.0 1089.5 859.0C1091.5 860.0 1096.4 861.4 1098.8 861.7C1101.2 862.1 1108.7 862.0 1110.0 862.0"/>
<path class="c" stroke="#f5b920" stroke-dasharray="16 4.5" d="M728.0 862.0C728.1 858.3 728.8 837.2 729.0 830.0C729.2 822.8 729.6 806.4 730.0 800.0C730.4 793.6 731.5 776.2 732.0 775.0C732.5 773.8 733.5 786.0 734.0 790.0C734.5 794.0 735.5 805.2 736.1 809.5C736.7 813.8 738.6 823.8 739.2 826.5C739.8 829.2 741.0 832.9 741.5 832.7C742.0 832.5 742.7 828.6 743.1 825.0C743.5 821.4 744.2 806.7 744.6 801.8C745.0 796.9 745.8 787.3 746.2 783.3C746.6 779.3 747.3 770.9 747.7 767.8C748.1 764.7 749.4 757.2 750.0 757.0C750.6 756.8 752.4 763.8 753.1 766.3C753.8 768.8 755.5 775.7 756.2 778.6C756.9 781.5 758.6 788.3 759.3 791.0C760.0 793.7 761.8 800.4 762.4 801.8C763.0 803.2 764.3 804.6 764.7 803.3C765.1 802.0 765.8 794.8 766.2 791.0C766.6 787.2 767.4 775.1 767.8 770.9C768.2 766.7 769.0 758.6 769.3 755.4C769.6 752.2 769.7 746.8 770.1 743.6C770.5 740.4 771.9 731.7 772.4 728.1C772.9 724.5 774.2 716.7 774.7 712.7C775.2 708.7 775.9 698.7 776.3 694.2C776.7 689.7 777.4 678.8 777.8 674.1C778.2 669.4 779.0 658.2 779.4 654.0C779.8 649.8 780.5 641.2 780.9 638.5C781.3 635.8 782.7 631.2 783.2 630.8C783.7 630.4 785.0 633.1 785.5 635.4C786.0 637.7 787.4 646.7 787.9 650.9C788.4 655.1 789.8 665.9 790.2 671.0C790.6 676.1 791.2 689.0 791.7 694.2C792.2 699.4 793.6 710.9 794.1 715.8C794.6 720.7 795.9 731.8 796.4 735.9C796.9 740.0 798.3 749.1 798.7 751.3C799.1 753.5 799.8 755.3 800.2 754.4C800.6 753.5 801.3 746.7 801.8 743.6C802.3 740.5 803.5 730.8 804.1 728.1C804.7 725.4 806.5 720.4 807.2 720.4C807.9 720.4 809.8 728.6 810.3 728.1C810.8 727.6 811.4 719.0 811.8 715.8C812.2 712.6 812.9 703.2 813.4 700.3C813.9 697.4 815.2 692.0 815.7 691.1C816.2 690.2 817.5 691.4 818.0 693.0C818.5 694.6 819.4 701.3 820.0 705.0C820.6 708.7 822.3 720.9 823.0 725.0C823.7 729.1 825.6 735.9 826.3 740.0C827.0 744.1 828.0 755.0 828.6 760.1C829.2 765.2 830.9 778.1 831.7 783.3C832.5 788.5 834.5 800.2 835.5 804.9C836.5 809.6 839.0 819.4 840.2 823.4C841.4 827.4 844.2 835.8 845.6 838.9C847.0 842.0 850.6 848.1 851.8 849.7C853.0 851.3 854.9 853.9 855.6 852.8C856.3 851.7 857.1 844.6 857.5 840.4C857.9 836.2 858.4 822.6 858.7 817.2C859.0 811.8 859.8 798.6 860.3 794.1C860.8 789.6 862.0 781.4 862.6 778.6C863.2 775.8 865.0 770.5 865.7 770.1C866.4 769.7 868.0 773.6 868.7 775.5C869.4 777.4 871.0 783.2 871.8 786.3C872.6 789.4 874.7 798.2 875.7 801.8C876.7 805.4 879.2 813.8 880.3 817.2C881.4 820.6 883.8 828.0 885.0 831.1C886.2 834.2 889.3 841.5 890.4 843.5C891.5 845.5 893.6 849.0 894.2 848.1C894.8 847.2 895.4 839.8 895.8 835.8C896.2 831.8 896.9 819.1 897.3 814.2C897.7 809.3 898.4 798.4 898.9 794.1C899.4 789.8 900.6 780.0 901.2 777.1C901.8 774.2 903.5 769.6 904.3 769.4C905.1 769.2 907.2 773.3 908.1 775.5C909.0 777.7 911.0 784.5 912.0 787.9C913.0 791.3 915.4 800.8 916.6 804.9C917.8 809.0 920.6 819.4 922.0 823.4C923.4 827.4 926.8 835.8 928.2 838.9C929.6 842.0 932.8 847.6 934.4 849.7C936.0 851.8 940.1 855.3 942.1 856.6C944.1 857.9 949.3 859.9 951.4 860.5C953.5 861.1 959.0 861.8 960.0 862.0"/>
<path class="c" stroke="#239bd7" stroke-dasharray="16 4.5" d="M712.0 862.0C712.1 861.5 712.7 860.8 712.9 857.4C713.1 854.0 713.4 838.3 713.7 832.7C714.0 827.1 714.9 814.6 715.3 809.5C715.7 804.4 716.4 793.0 716.8 789.4C717.2 785.8 718.6 780.2 719.1 778.6C719.6 777.0 720.9 775.5 721.4 775.5C721.9 775.5 723.2 777.2 723.8 778.6C724.4 780.0 726.2 785.9 726.9 787.9C727.6 789.9 729.3 795.8 729.9 795.6C730.5 795.4 731.8 789.2 732.3 786.3C732.8 783.4 733.4 774.5 733.8 770.9C734.1 767.3 734.8 758.6 735.3 755.4C735.8 752.2 737.3 744.7 737.7 743.1C738.1 741.5 738.0 741.8 738.4 742.0C738.8 742.2 740.0 742.7 740.7 744.6C741.4 746.5 743.8 755.4 744.6 758.5C745.4 761.6 747.0 768.0 747.7 770.9C748.4 773.8 750.3 783.3 750.8 783.3C751.3 783.3 751.9 774.2 752.3 770.9C752.7 767.6 753.5 758.6 753.9 755.4C754.3 752.2 755.0 745.6 755.4 743.1C755.8 740.6 757.1 734.6 757.7 734.3C758.3 734.0 760.1 738.0 760.8 740.5C761.5 743.0 763.2 751.5 763.9 755.4C764.6 759.3 766.2 769.5 767.0 774.0C767.8 778.5 770.0 789.6 770.9 794.1C771.8 798.6 773.7 808.6 774.7 812.6C775.7 816.6 778.2 824.9 779.4 828.1C780.6 831.3 783.4 837.9 784.8 840.4C786.2 842.9 789.5 847.9 791.0 849.7C792.5 851.5 796.5 854.8 797.9 855.9C799.3 857.0 802.4 859.9 803.3 859.0C804.2 858.1 805.1 852.1 805.6 848.1C806.1 844.1 806.7 830.4 807.2 825.0C807.7 819.6 809.0 807.2 809.5 801.8C810.0 796.4 811.3 784.0 811.8 778.6C812.3 773.2 813.7 758.6 814.1 755.4C814.5 752.2 815.0 754.5 815.4 751.3C815.8 748.1 817.3 733.5 817.8 728.1C818.3 722.7 819.6 710.4 820.1 705.0C820.6 699.6 821.9 686.7 822.4 681.8C822.9 676.9 824.0 666.2 824.7 663.3C825.4 660.4 827.9 658.5 828.6 657.1C829.3 655.7 830.4 653.4 830.9 650.9C831.4 648.4 832.7 637.9 833.2 635.4C833.7 632.9 835.0 628.9 835.5 629.3C836.0 629.7 837.3 636.0 837.8 638.5C838.3 641.0 839.7 649.1 840.2 650.9C840.7 652.7 842.0 654.7 842.5 654.0C843.0 653.3 844.4 646.3 844.8 644.7C845.2 643.1 845.8 639.0 846.3 640.1C846.8 641.2 848.8 650.0 849.4 654.0C850.0 658.0 851.3 670.0 851.8 674.1C852.3 678.2 853.7 687.4 854.1 689.5C854.5 691.6 854.9 693.4 855.5 692.0C856.1 690.6 858.8 678.0 859.5 677.2C860.2 676.4 861.3 682.6 861.8 684.9C862.3 687.2 863.6 694.0 864.1 697.2C864.6 700.4 865.9 710.4 866.4 712.7C866.9 715.0 868.2 718.2 868.7 717.3C869.2 716.4 869.9 708.2 870.3 705.0C870.7 701.8 871.4 694.0 871.8 689.5C872.2 685.0 873.0 672.1 873.4 666.3C873.8 660.5 874.6 649.1 874.9 640.0C875.2 630.9 875.4 597.4 875.7 588.1C876.0 578.8 876.8 564.9 877.2 560.3C877.6 555.7 878.6 549.6 879.1 548.7C879.6 547.8 880.6 550.5 881.1 552.6C881.6 554.7 883.0 562.4 883.4 566.5C883.8 570.6 884.4 583.4 884.7 588.1C885.0 592.8 885.4 602.7 885.7 606.7C886.0 610.7 886.9 619.1 887.3 622.1C887.7 625.1 888.4 629.5 888.8 632.0C889.2 634.5 890.0 639.2 890.4 643.2C890.8 647.2 891.5 660.9 891.9 666.3C892.3 671.7 893.1 684.1 893.5 689.5C893.9 694.9 894.6 708.2 895.0 712.7C895.4 717.2 896.2 724.6 896.6 728.1C897.0 731.6 897.7 739.0 898.1 743.1C898.5 747.2 899.8 758.2 900.4 763.2C901.0 768.2 902.7 780.9 903.5 786.3C904.3 791.7 906.4 804.6 907.4 809.5C908.4 814.4 910.9 824.5 912.0 828.1C913.1 831.7 915.5 838.1 916.6 840.4C917.7 842.7 920.5 848.6 921.3 848.1C922.1 847.6 923.2 840.3 923.6 835.8C924.0 831.3 924.7 816.2 925.1 809.5C925.5 802.8 926.3 784.9 926.7 778.6C927.1 772.3 927.8 760.5 928.2 755.4C928.6 750.3 929.4 740.0 929.8 735.0C930.2 730.0 930.9 718.0 931.3 712.7C931.7 707.4 932.4 692.6 932.9 689.5C933.4 686.4 934.7 686.0 935.2 686.4C935.7 686.8 937.0 689.5 937.5 692.6C938.0 695.7 939.3 708.2 939.8 712.7C940.3 717.2 940.9 727.2 941.4 731.2C941.9 735.2 943.3 744.2 943.7 747.0C944.1 749.8 944.7 752.2 945.2 755.0C945.7 757.8 947.5 766.3 948.3 770.9C949.1 775.5 951.3 789.2 952.2 794.1C953.1 799.0 955.0 808.5 956.0 812.6C957.0 816.7 959.5 826.0 960.7 829.6C961.9 833.2 964.7 840.8 966.1 843.5C967.5 846.2 971.3 851.1 973.0 852.8C974.7 854.5 978.8 857.2 980.8 858.2C982.8 859.2 987.8 860.9 990.0 861.3C992.2 861.7 995.6 861.9 1000.0 862.0C1004.4 862.1 1024.6 862.5 1028.0 862.0C1031.4 861.5 1029.0 860.5 1029.3 857.4C1029.6 854.3 1030.4 841.4 1030.8 835.8C1031.2 830.2 1031.9 815.3 1032.4 809.5C1032.9 803.7 1034.1 790.2 1034.7 786.3C1035.3 782.4 1037.1 777.4 1037.8 776.3C1038.5 775.2 1040.2 776.1 1040.9 777.1C1041.6 778.1 1043.1 782.3 1043.9 784.8C1044.7 787.3 1046.8 795.3 1047.8 798.7C1048.8 802.1 1051.4 811.0 1052.4 814.2C1053.4 817.4 1055.5 824.3 1056.3 826.5C1057.1 828.7 1058.9 833.4 1059.4 832.7C1059.9 832.0 1060.5 824.3 1060.9 820.3C1061.3 816.3 1062.1 803.6 1062.5 798.7C1062.9 793.8 1063.6 782.2 1064.0 778.6C1064.4 775.0 1065.1 769.7 1065.6 767.8C1066.1 765.9 1067.3 762.4 1067.9 762.4C1068.5 762.4 1070.3 765.7 1071.0 767.8C1071.7 769.9 1073.4 777.1 1074.1 780.2C1074.8 783.3 1076.4 790.7 1077.2 794.1C1078.0 797.5 1080.0 805.9 1081.0 809.5C1082.0 813.1 1084.5 821.6 1085.7 825.0C1086.9 828.4 1089.8 836.0 1091.1 838.9C1092.4 841.8 1095.6 847.6 1097.2 849.7C1098.8 851.8 1103.0 855.3 1105.0 856.6C1107.0 857.9 1111.9 859.9 1114.2 860.5C1116.5 861.1 1123.8 861.8 1125.1 862.0"/>
<path class="ax" d="M216 97V873M206 862.5H1447"/>
<path class="ax" d="M352.8 853V873M489.6 853V873M626.3 853V873M763.1 853V873M899.9 853V873M1036.7 853V873M1173.4 853V873M1310.2 853V873M1447.0 853V873M206 709.6H226M206 556.7H226M206 403.8H226M206 250.9H226M206 98.0H226"/>
<text class="tl" transform="translate(216.0,911.9) scale(1,1.03)" text-anchor="middle">0,0</text>
<text class="tl" transform="translate(352.8,911.9) scale(1,1.03)" text-anchor="middle">50,00</text>
<text class="tl" transform="translate(489.6,911.9) scale(1,1.03)" text-anchor="middle">100,0</text>
<text class="tl" transform="translate(626.3,911.9) scale(1,1.03)" text-anchor="middle">150,0</text>
<text class="tl" transform="translate(763.1,911.9) scale(1,1.03)" text-anchor="middle">200,0</text>
<text class="tl" transform="translate(899.9,911.9) scale(1,1.03)" text-anchor="middle">250,0</text>
<text class="tl" transform="translate(1036.7,911.9) scale(1,1.03)" text-anchor="middle">300,0</text>
<text class="tl" transform="translate(1173.4,911.9) scale(1,1.03)" text-anchor="middle">350,0</text>
<text class="tl" transform="translate(1310.2,911.9) scale(1,1.03)" text-anchor="middle">400,0</text>
<text class="tl" transform="translate(1447.0,911.9) scale(1,1.03)" text-anchor="middle">450,0</text>
<text class="tl" transform="translate(194.3,877.9) scale(1,1.03)" text-anchor="end">0,0</text>
<text class="tl" transform="translate(194.3,725.8) scale(1,1.03)" text-anchor="end">,200</text>
<text class="tl" transform="translate(194.3,572.9) scale(1,1.03)" text-anchor="end">,400</text>
<text class="tl" transform="translate(194.3,420.0) scale(1,1.03)" text-anchor="end">,600</text>
<text class="tl" transform="translate(194.3,267.1) scale(1,1.03)" text-anchor="end">,800</text>
<text class="tl" transform="translate(194.3,114.2) scale(1,1.03)" text-anchor="end">1,00</text>
<text class="lg" x="1497.6" y="63.9" xml:space="preserve">Door  Esc E P3</text>
<path d="M1496 70.0H1538" stroke="#238c55" stroke-width="2" shape-rendering="crispEdges"/>
<text class="lg" x="1497.6" y="90.0" xml:space="preserve">Door Vestíbulo Esc A P1</text>
<path d="M1497 96.0H1513M1517 96.0H1533" stroke="#a0c56a" stroke-width="2" shape-rendering="crispEdges"/>
<text class="lg" x="1497.6" y="116.0" xml:space="preserve">Door Vestíbulo Esc A P2</text>
<path d="M1497 122.1H1513M1517 122.1H1533" stroke="#1b6fb5" stroke-width="2" shape-rendering="crispEdges"/>
<text class="lg" x="1497.6" y="142.1" xml:space="preserve">Door Vestíbulo Esc A P3</text>
<path d="M1497 148.2H1513M1517 148.2H1533" stroke="#0f2a60" stroke-width="2" shape-rendering="crispEdges"/>
<text class="lg" x="1497.6" y="168.1" xml:space="preserve">Door Vestíbulo Esc A P4</text>
<path d="M1497 174.2H1533" stroke="#25a560" stroke-width="2" stroke-dasharray="4 4" shape-rendering="crispEdges"/>
<text class="lg" x="1497.6" y="194.2" xml:space="preserve">Door Vestíbulo Esc E P1</text>
<path d="M1497 200.2H1533" stroke="#5a2d91" stroke-width="2" stroke-dasharray="4 4" shape-rendering="crispEdges"/>
<text class="lg" x="1497.6" y="220.2" xml:space="preserve">Door Vestíbulo Esc E P2</text>
<path d="M1497 226.3H1533" stroke="#b01515" stroke-width="2" stroke-dasharray="4 4" shape-rendering="crispEdges"/>
<text class="lg" x="1497.6" y="246.2" xml:space="preserve">Door Vestíbulo Esc E P3</text>
<path d="M1497 252.3H1533" stroke="#f2bb28" stroke-width="2" stroke-dasharray="4 4" shape-rendering="crispEdges"/>
<text class="lg" x="1497.6" y="272.3" xml:space="preserve">Door Vestíbulo Esc E P4</text>
<path d="M1497 278.4H1533" stroke="#22a2d9" stroke-width="2" stroke-dasharray="4 4" shape-rendering="crispEdges"/>
<text class="lg" x="1497.6" y="298.4" xml:space="preserve">Door Sector 1A</text>
<path d="M1497 304.5H1513M1517 304.5H1533" stroke="#5a2d91" stroke-width="2" shape-rendering="crispEdges"/>
<text class="lg" x="1497.6" y="324.4" xml:space="preserve">Door Sector 2A</text>
<path d="M1497 330.5H1513M1517 330.5H1533" stroke="#af0f0f" stroke-width="2" shape-rendering="crispEdges"/>
<text class="lg" x="1497.6" y="350.4" xml:space="preserve">Door Sector 3A</text>
<path d="M1497 356.6H1513M1517 356.6H1533" stroke="#f5b920" stroke-width="2" shape-rendering="crispEdges"/>
<text class="lg" x="1497.6" y="376.5" xml:space="preserve">Door Sector 4A</text>
<path d="M1497 382.6H1513M1517 382.6H1533" stroke="#239bd7" stroke-width="2" shape-rendering="crispEdges"/>
</svg></body></html>
